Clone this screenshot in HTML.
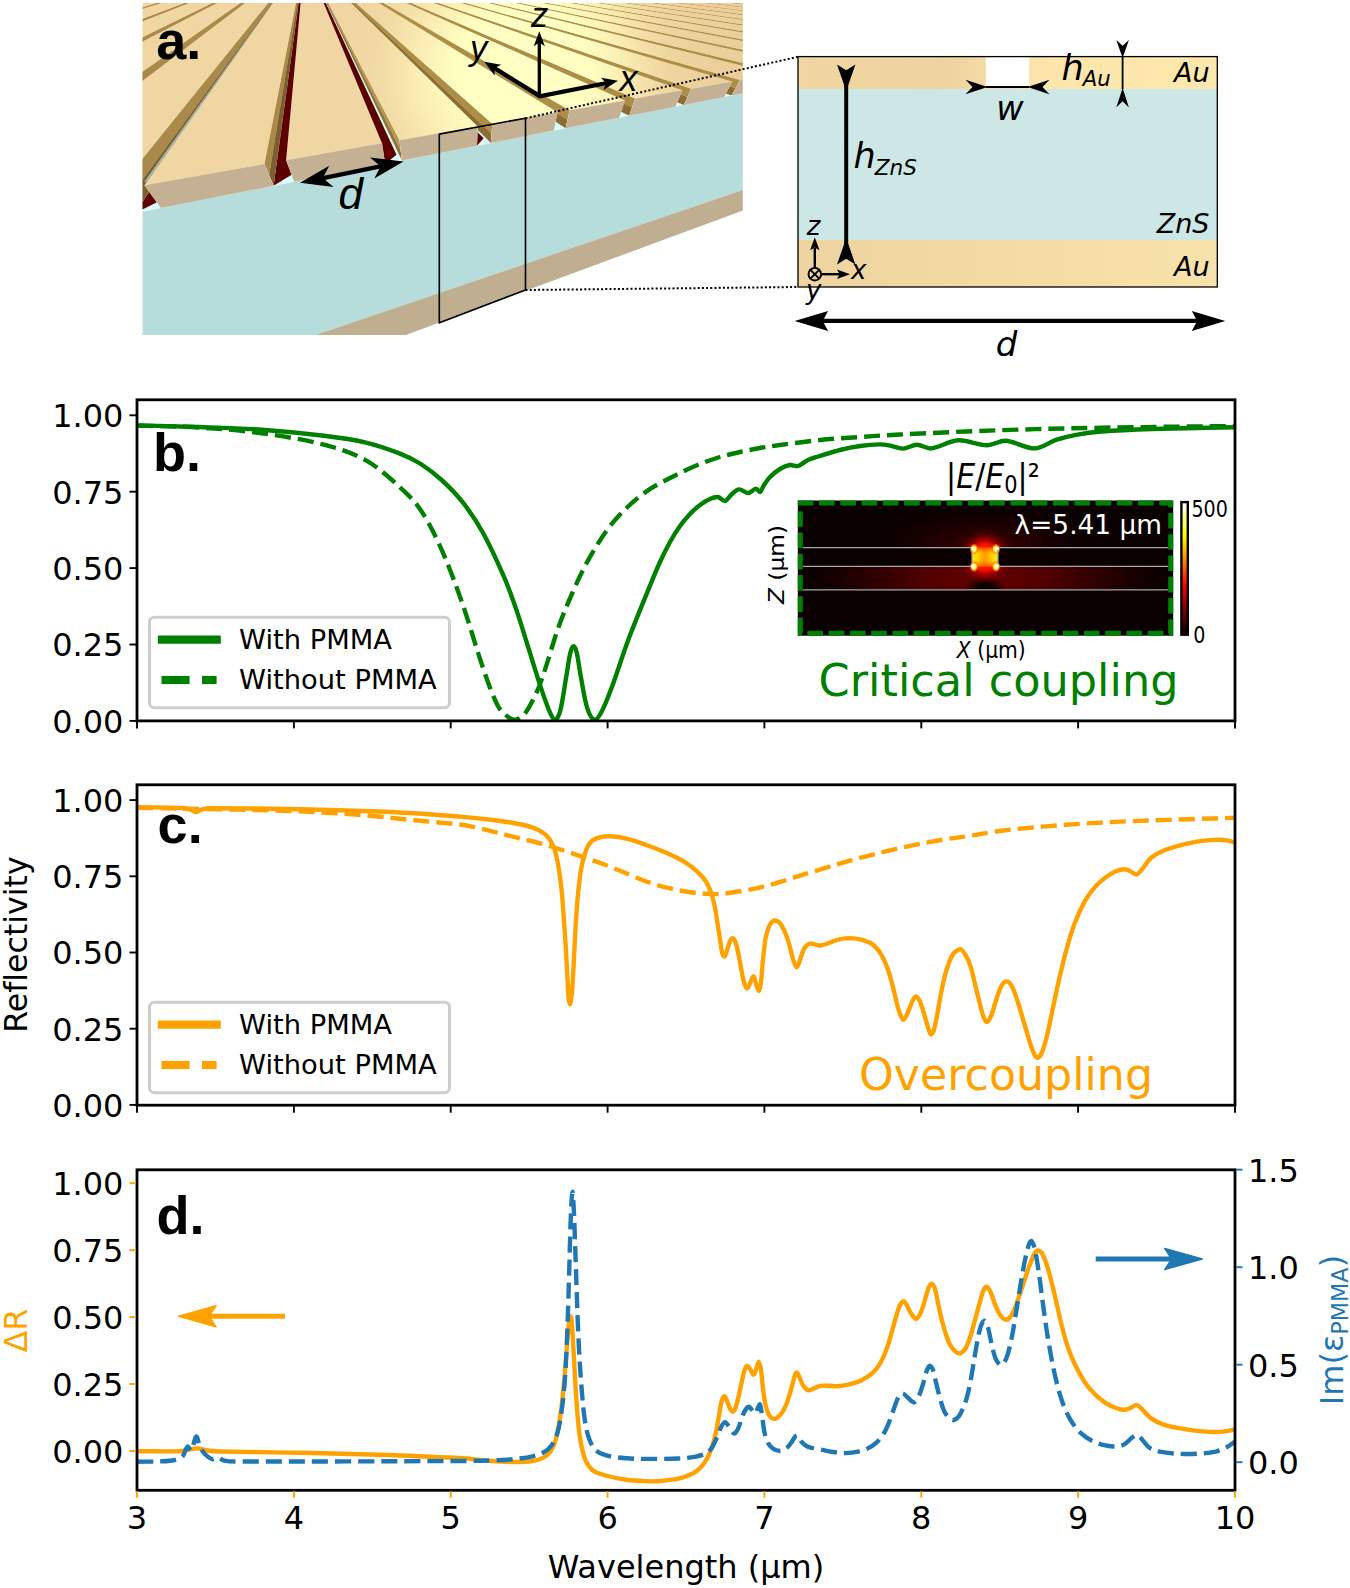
<!DOCTYPE html>
<html lang="en"><head><meta charset="utf-8"><title>Figure</title>
<style>
html,body{margin:0;padding:0;background:#fff;}
body{width:1350px;height:1588px;overflow:hidden;}
svg{display:block;}
text{font-family:"DejaVu Sans","Liberation Sans",sans-serif;font-variant-ligatures:none;}
.tk{font-size:32px;}
.al{font-size:32px;}
.lg{font-size:27.3px;}
.pl{font-family:"Liberation Sans",Arial,sans-serif;font-weight:bold;font-size:54px;}
.ar{font-family:"Liberation Sans",Arial,sans-serif;font-style:italic;}
.it{font-style:oblique;}
</style></head><body>
<svg width="1350" height="1588" viewBox="0 0 1350 1588">
<defs>
<clipPath id="cb"><rect x="137" y="399.8" width="1098" height="321.1"/></clipPath>
<clipPath id="cc"><rect x="137" y="784.8" width="1098" height="320.4"/></clipPath>
<clipPath id="cd"><rect x="137" y="1169.8" width="1098" height="320.5"/></clipPath>
<radialGradient id="gHalo" cx="985" cy="557" r="31" gradientUnits="userSpaceOnUse"><stop offset="0" stop-color="#ff3000" stop-opacity="1"/><stop offset="0.42" stop-color="#ff1400" stop-opacity="0.95"/><stop offset="0.55" stop-color="#c80000" stop-opacity="0.75"/><stop offset="0.75" stop-color="#700000" stop-opacity="0.4"/><stop offset="1" stop-color="#300000" stop-opacity="0"/></radialGradient>
<radialGradient id="gZ" cx="985" cy="578" r="1" gradientUnits="userSpaceOnUse" gradientTransform="translate(985 578) scale(190 60) translate(-985 -578)"><stop offset="0" stop-color="#6a0000" stop-opacity="1"/><stop offset="0.35" stop-color="#560000" stop-opacity="0.9"/><stop offset="0.7" stop-color="#330000" stop-opacity="0.6"/><stop offset="1" stop-color="#120000" stop-opacity="0"/></radialGradient>
<radialGradient id="gTopHaze" cx="985" cy="548" r="1" gradientUnits="userSpaceOnUse" gradientTransform="translate(985 548) scale(120 45) translate(-985 -548)"><stop offset="0" stop-color="#4a0000" stop-opacity="0.9"/><stop offset="0.5" stop-color="#300000" stop-opacity="0.5"/><stop offset="1" stop-color="#100000" stop-opacity="0"/></radialGradient>
<radialGradient id="gDark" cx="985" cy="590" r="1" gradientUnits="userSpaceOnUse" gradientTransform="translate(985 590) scale(22 13) translate(-985 -590)"><stop offset="0" stop-color="#000" stop-opacity="1"/><stop offset="0.45" stop-color="#050000" stop-opacity="0.9"/><stop offset="1" stop-color="#200000" stop-opacity="0"/></radialGradient>
<radialGradient id="gGap" cx="985" cy="557" r="1" gradientUnits="userSpaceOnUse" gradientTransform="translate(985 557) scale(14 9) translate(-985 -557)"><stop offset="0" stop-color="#ff9000"/><stop offset="0.6" stop-color="#ffa800"/><stop offset="1" stop-color="#ffd000"/></radialGradient>
<linearGradient id="gGapH" x1="0" x2="1" y1="0" y2="0"><stop offset="0" stop-color="#ffee00"/><stop offset="0.22" stop-color="#ffd000"/><stop offset="0.5" stop-color="#ff9600"/><stop offset="0.78" stop-color="#ffd000"/><stop offset="1" stop-color="#ffee00"/></linearGradient>
<linearGradient id="gGapV" x1="0" x2="0" y1="0" y2="1"><stop offset="0" stop-color="#ff3000" stop-opacity="0.75"/><stop offset="0.3" stop-color="#ff6000" stop-opacity="0"/><stop offset="0.7" stop-color="#ff6000" stop-opacity="0"/><stop offset="1" stop-color="#ff3000" stop-opacity="0.75"/></linearGradient>
<radialGradient id="gHot"><stop offset="0" stop-color="#fff"/><stop offset="0.3" stop-color="#ffffb0"/><stop offset="0.55" stop-color="#ffe600" stop-opacity="0.95"/><stop offset="0.8" stop-color="#ff7000" stop-opacity="0.6"/><stop offset="1" stop-color="#ff2000" stop-opacity="0"/></radialGradient>
<linearGradient id="gCb" x1="0" y1="1" x2="0" y2="0"><stop offset="0" stop-color="#0a0000"/><stop offset="0.18" stop-color="#7a0000"/><stop offset="0.365" stop-color="#ff0000"/><stop offset="0.55" stop-color="#ff8000"/><stop offset="0.746" stop-color="#ffff00"/><stop offset="1" stop-color="#ffffff"/></linearGradient>
<clipPath id="ci"><rect x="800.3" y="503.0" width="370.4" height="130.2"/></clipPath>
<clipPath id="cz"><rect x="800.3" y="566.4" width="370.4" height="23.4"/></clipPath>
<clipPath id="cabove"><path d="M800.3 503.0 H1170.7 V547.7 H997.9 V566.4 H1170.7 V589.8 H800.3 V566.4 H972.1 V547.7 H800.3 Z"/></clipPath><linearGradient id="gAuT" x1="798" x2="1217" y1="0" y2="0" gradientUnits="userSpaceOnUse"><stop offset="0" stop-color="#efd6a2"/><stop offset="0.35" stop-color="#edd39f"/><stop offset="0.56" stop-color="#fce5ab"/><stop offset="1" stop-color="#fee8ae"/></linearGradient>
<linearGradient id="gAuB" x1="798" x2="1217" y1="0" y2="0" gradientUnits="userSpaceOnUse"><stop offset="0" stop-color="#eed4a0"/><stop offset="0.5" stop-color="#f3dba5"/><stop offset="1" stop-color="#f8e2ab"/></linearGradient><clipPath id="cimg"><rect x="142.5" y="3.0" width="600.3" height="332.0"/></clipPath>
<radialGradient id="gHi" cx="522" cy="72" r="1" gradientUnits="userSpaceOnUse" gradientTransform="translate(522 72) rotate(-10) scale(185 175) translate(-522 -72)"><stop offset="0" stop-color="#ffffc6" stop-opacity="1"/><stop offset="0.36" stop-color="#ffffc2" stop-opacity="1"/><stop offset="0.58" stop-color="#fdf2b6" stop-opacity="0.8"/><stop offset="0.8" stop-color="#f5e0a8" stop-opacity="0.4"/><stop offset="1" stop-color="#efd6a2" stop-opacity="0"/></radialGradient>
<linearGradient id="gDk" x1="610" x2="745" y1="0" y2="0" gradientUnits="userSpaceOnUse"><stop offset="0" stop-color="#e3c48c" stop-opacity="0"/><stop offset="1" stop-color="#e3c48c" stop-opacity="0.4"/></linearGradient>
<clipPath id="g3"><polygon points="-4116.8,938.1 -3653.0,856.2 284.9,-37.8 284.4,-37.8"/><polygon points="-4116.8,938.1 -3653.0,856.2 -2905.1,812.0 -3223.3,874.7"/></clipPath>
<clipPath id="g4"><polygon points="-2173.3,594.8 -1971.9,559.2 287.7,-37.9 287.3,-37.9"/><polygon points="-2173.3,594.8 -1971.9,559.2 -1657.4,566.2 -1815.2,597.3"/></clipPath>
<clipPath id="g5"><polygon points="-1239.3,429.8 -1127.4,410.0 290.5,-37.9 290.1,-37.9"/><polygon points="-1239.3,429.8 -1127.4,410.0 -968.2,430.5 -1062.2,449.0"/></clipPath>
<clipPath id="g6"><polygon points="-690.6,332.8 -619.4,320.2 293.3,-37.9 292.9,-37.9"/><polygon points="-690.6,332.8 -619.4,320.2 -531.0,344.3 -593.4,356.6"/></clipPath>
<clipPath id="g7"><polygon points="-329.4,269.0 -280.2,260.3 296.1,-37.9 295.6,-37.9"/><polygon points="-329.4,269.0 -280.2,260.3 -229.1,284.9 -273.4,293.6"/></clipPath>
<clipPath id="g8"><polygon points="-73.7,223.8 -37.6,217.5 298.9,-37.9 298.4,-37.9"/><polygon points="-73.7,223.8 -37.6,217.5 -7.9,241.3 -41.1,247.8"/></clipPath>
<clipPath id="g9"><polygon points="116.9,190.2 144.4,185.3 301.6,-37.9 301.2,-37.9"/><polygon points="116.9,190.2 144.4,185.3 160.9,208.0 135.2,213.1"/></clipPath>
<clipPath id="g10"><polygon points="264.4,164.1 286.1,160.3 304.4,-37.9 303.9,-37.9"/><polygon points="264.4,164.1 286.1,160.3 294.2,181.8 273.6,185.8"/></clipPath>
<clipPath id="g11"><polygon points="382.0,143.3 399.5,140.2 307.1,-37.9 306.6,-37.9"/><polygon points="382.0,143.3 399.5,140.2 401.9,160.6 385.2,163.9"/></clipPath>
<clipPath id="g12"><polygon points="477.8,126.4 492.3,123.8 309.8,-37.9 309.3,-37.9"/><polygon points="477.8,126.4 492.3,123.8 490.9,143.0 477.0,145.8"/></clipPath>
<clipPath id="g13"><polygon points="557.5,112.3 569.7,110.2 312.5,-37.9 312.0,-37.9"/><polygon points="557.5,112.3 569.7,110.2 565.6,128.3 553.8,130.6"/></clipPath>
<clipPath id="g14"><polygon points="624.8,100.4 635.2,98.6 315.2,-37.9 314.7,-37.9"/><polygon points="624.8,100.4 635.2,98.6 629.2,115.8 619.1,117.8"/></clipPath>
<clipPath id="g15"><polygon points="682.4,90.3 691.3,88.7 317.9,-37.9 317.4,-37.9"/><polygon points="682.4,90.3 691.3,88.7 684.0,105.0 675.3,106.7"/></clipPath>
<clipPath id="g16"><polygon points="732.2,81.4 740.0,80.1 320.5,-37.9 320.1,-37.9"/><polygon points="732.2,81.4 740.0,80.1 731.7,95.6 724.1,97.1"/></clipPath>
<clipPath id="g17"><polygon points="775.8,73.8 782.6,72.6 323.2,-37.9 322.7,-37.9"/><polygon points="775.8,73.8 782.6,72.6 773.7,87.3 766.9,88.6"/></clipPath>
<clipPath id="g18"><polygon points="814.1,67.0 820.2,65.9 325.8,-37.9 325.3,-37.9"/><polygon points="814.1,67.0 820.2,65.9 810.8,80.0 804.8,81.2"/></clipPath>
<clipPath id="g19"><polygon points="848.2,61.0 853.6,60.0 328.4,-37.9 328.0,-37.9"/><polygon points="848.2,61.0 853.6,60.0 843.9,73.5 838.6,74.5"/></clipPath>
<clipPath id="g20"><polygon points="878.7,55.6 883.5,54.7 331.0,-38.0 330.6,-38.0"/><polygon points="878.7,55.6 883.5,54.7 873.6,67.6 868.8,68.6"/></clipPath>
<clipPath id="g21"><polygon points="906.0,50.7 910.4,50.0 333.6,-38.0 333.2,-38.0"/><polygon points="906.0,50.7 910.4,50.0 900.4,62.3 896.1,63.2"/></clipPath>
<clipPath id="g22"><polygon points="930.8,46.4 934.8,45.7 336.2,-38.0 335.8,-38.0"/><polygon points="930.8,46.4 934.8,45.7 924.7,57.6 920.8,58.3"/></clipPath>
<clipPath id="g23"><polygon points="953.3,42.4 956.9,41.8 338.8,-38.0 338.3,-38.0"/><polygon points="953.3,42.4 956.9,41.8 946.9,53.2 943.3,53.9"/></clipPath>
<clipPath id="g24"><polygon points="973.8,38.8 977.1,38.2 341.3,-38.0 340.9,-38.0"/><polygon points="973.8,38.8 977.1,38.2 967.1,49.2 963.8,49.9"/></clipPath>
<clipPath id="g25"><polygon points="992.6,35.4 995.6,34.9 343.9,-38.0 343.4,-38.0"/><polygon points="992.6,35.4 995.6,34.9 985.7,45.5 982.7,46.1"/></clipPath>
<clipPath id="g26"><polygon points="1009.9,32.4 1012.7,31.9 346.4,-38.0 346.0,-38.0"/><polygon points="1009.9,32.4 1012.7,31.9 1002.9,42.2 1000.1,42.7"/></clipPath>
<clipPath id="g27"><polygon points="1025.9,29.6 1028.4,29.1 348.9,-38.0 348.5,-38.0"/><polygon points="1025.9,29.6 1028.4,29.1 1018.7,39.0 1016.1,39.6"/></clipPath>
<clipPath id="g28"><polygon points="1040.6,27.0 1043.0,26.5 351.4,-38.0 351.0,-38.0"/><polygon points="1040.6,27.0 1043.0,26.5 1033.4,36.1 1031.0,36.6"/></clipPath>
<clipPath id="g29"><polygon points="1054.3,24.5 1056.5,24.2 353.9,-38.0 353.5,-38.0"/><polygon points="1054.3,24.5 1056.5,24.2 1047.1,33.5 1044.8,33.9"/></clipPath>
<clipPath id="g30"><polygon points="1067.1,22.3 1069.2,21.9 356.4,-38.0 356.0,-38.0"/><polygon points="1067.1,22.3 1069.2,21.9 1059.8,30.9 1057.7,31.4"/></clipPath>
<clipPath id="g31"><polygon points="1079.0,20.2 1080.9,19.8 358.9,-38.0 358.5,-38.0"/><polygon points="1079.0,20.2 1080.9,19.8 1071.7,28.6 1069.7,29.0"/></clipPath>
<clipPath id="g32"><polygon points="1090.1,18.2 1091.9,17.9 361.4,-38.0 360.9,-38.0"/><polygon points="1090.1,18.2 1091.9,17.9 1082.8,26.4 1081.0,26.8"/></clipPath>
<clipPath id="g33"><polygon points="1100.5,16.4 1102.2,16.1 363.8,-38.0 363.4,-38.0"/><polygon points="1100.5,16.4 1102.2,16.1 1093.3,24.4 1091.6,24.7"/></clipPath>
<clipPath id="g34"><polygon points="1110.3,14.7 1111.9,14.4 366.3,-38.0 365.8,-38.0"/><polygon points="1110.3,14.7 1111.9,14.4 1103.1,22.4 1101.5,22.7"/></clipPath>
<clipPath id="g35"><polygon points="1119.5,13.0 1121.1,12.8 368.7,-38.0 368.3,-38.0"/><polygon points="1119.5,13.0 1121.1,12.8 1112.4,20.6 1110.9,20.9"/></clipPath>
<clipPath id="g36"><polygon points="1128.2,11.5 1129.7,11.2 371.1,-38.0 370.7,-38.0"/><polygon points="1128.2,11.5 1129.7,11.2 1121.1,18.9 1119.7,19.2"/></clipPath>
<clipPath id="g37"><polygon points="1136.4,10.0 1137.8,9.8 373.5,-38.1 373.1,-38.1"/><polygon points="1136.4,10.0 1137.8,9.8 1129.4,17.2 1128.0,17.5"/></clipPath>
<clipPath id="g38"><polygon points="1144.2,8.7 1145.5,8.4 375.9,-38.1 375.5,-38.1"/><polygon points="1144.2,8.7 1145.5,8.4 1137.2,15.7 1135.9,16.0"/></clipPath>
<clipPath id="g39"><polygon points="1151.5,7.4 1152.7,7.2 378.3,-38.1 377.9,-38.1"/><polygon points="1151.5,7.4 1152.7,7.2 1144.6,14.2 1143.4,14.5"/></clipPath>
</defs>
<rect width="1350" height="1588" fill="#fff"/>
<g clip-path="url(#cimg)">
<rect x="142.5" y="3.0" width="600.3" height="332.0" fill="#fff"/>
<polygon points="142.5,3.0 742.8,3.0 1212.5,-3.4 -10633.8,2089.5 92.5,335.0" fill="#efd6a3" />
<polygon points="142.5,3.0 742.8,3.0 1212.5,-3.4 -10633.8,2089.5 92.5,335.0" fill="url(#gHi)" />
<polygon points="142.5,3.0 742.8,3.0 1212.5,-3.4 -10633.8,2089.5 92.5,335.0" fill="url(#gDk)" />
<g clip-path="url(#g3)">
<polygon points="-3223.3,874.7 -2905.1,812.0 285.1,-37.1 284.6,-37.1" fill="#dcfbfb" />
<polygon points="-3223.3,874.7 -2558.8,717.1 285.0,-37.1 284.6,-37.1" fill="#5c0000" />
<polygon points="-4116.8,938.1 284.4,-37.8 284.5,-37.5 -3621.7,903.0" fill="#a98a4b" />
<polygon points="-3621.7,903.0 284.5,-37.5 284.6,-37.1 -3223.3,874.7" fill="#7c5f2f" />
</g>
<g clip-path="url(#g4)">
<polygon points="-1815.2,597.3 -1657.4,566.2 287.9,-37.1 287.5,-37.1" fill="#dcfbfb" />
<polygon points="-1815.2,597.3 -1504.7,516.5 287.9,-37.1 287.5,-37.1" fill="#5c0000" />
<polygon points="-2173.3,594.8 287.3,-37.9 287.4,-37.5 -1981.2,596.1" fill="#a98a4b" />
<polygon points="-1981.2,596.1 287.4,-37.5 287.5,-37.1 -1815.2,597.3" fill="#7c5f2f" />
</g>
<g clip-path="url(#g5)">
<polygon points="-1062.2,449.0 -968.2,430.5 290.7,-37.1 290.3,-37.1" fill="#dcfbfb" />
<polygon points="-1062.2,449.0 -891.9,399.9 290.7,-37.1 290.3,-37.1" fill="#5c0000" />
<polygon points="-1239.3,429.8 290.1,-37.9 290.2,-37.5 -1145.9,439.9" fill="#a98a4b" />
<polygon points="-1145.9,439.9 290.2,-37.5 290.3,-37.1 -1062.2,449.0" fill="#7c5f2f" />
</g>
<g clip-path="url(#g6)">
<polygon points="-593.4,356.6 -531.0,344.3 293.5,-37.1 293.0,-37.1" fill="#dcfbfb" />
<polygon points="-593.4,356.6 -491.3,323.7 293.4,-37.1 293.0,-37.1" fill="#5c0000" />
<polygon points="-690.6,332.8 292.9,-37.9 293.0,-37.5 -639.8,345.2" fill="#a98a4b" />
<polygon points="-639.8,345.2 293.0,-37.5 293.0,-37.1 -593.4,356.6" fill="#7c5f2f" />
</g>
<g clip-path="url(#g7)">
<polygon points="-273.4,293.6 -229.1,284.9 296.3,-37.2 295.8,-37.2" fill="#dcfbfb" />
<polygon points="-273.4,293.6 -208.9,270.0 296.2,-37.2 295.8,-37.2" fill="#5c0000" />
<polygon points="-329.4,269.0 295.6,-37.9 295.7,-37.5 -300.3,281.7" fill="#a98a4b" />
<polygon points="-300.3,281.7 295.7,-37.5 295.8,-37.2 -273.4,293.6" fill="#7c5f2f" />
</g>
<g clip-path="url(#g8)">
<polygon points="-41.1,247.8 -7.9,241.3 299.1,-37.2 298.6,-37.2" fill="#dcfbfb" />
<polygon points="-41.1,247.8 0.8,230.0 299.0,-37.2 298.6,-37.2" fill="#5c0000" />
<polygon points="-73.7,223.8 298.4,-37.9 298.5,-37.5 -56.9,236.2" fill="#a98a4b" />
<polygon points="-56.9,236.2 298.5,-37.5 298.6,-37.2 -41.1,247.8" fill="#7c5f2f" />
</g>
<g clip-path="url(#g9)">
<polygon points="135.2,213.1 160.9,208.0 301.8,-37.2 301.3,-37.2" fill="#dcfbfb" />
<polygon points="135.2,213.1 162.8,199.2 301.7,-37.2 301.3,-37.2" fill="#5c0000" />
<polygon points="116.9,190.2 301.2,-37.9 301.3,-37.5 126.3,201.9" fill="#a98a4b" />
<polygon points="126.3,201.9 301.3,-37.5 301.3,-37.2 135.2,213.1" fill="#7c5f2f" />
</g>
<g clip-path="url(#g10)">
<polygon points="273.6,185.8 294.2,181.8 304.5,-37.2 304.1,-37.2" fill="#dcfbfb" />
<polygon points="273.6,185.8 291.6,174.7 304.5,-37.2 304.1,-37.2" fill="#5c0000" />
<polygon points="264.4,164.1 303.9,-37.9 304.0,-37.5 269.1,175.2" fill="#a98a4b" />
<polygon points="269.1,175.2 304.0,-37.5 304.1,-37.2 273.6,185.8" fill="#7c5f2f" />
</g>
<g clip-path="url(#g11)">
<polygon points="385.2,163.9 401.9,160.6 307.3,-37.2 306.8,-37.2" fill="#dcfbfb" />
<polygon points="385.2,163.9 396.5,154.7 307.2,-37.2 306.8,-37.2" fill="#5c0000" />
<polygon points="399.5,140.2 307.1,-37.9 307.2,-37.5 400.7,150.6" fill="#b49555" />
<polygon points="400.7,150.6 307.2,-37.5 307.3,-37.2 401.9,160.6" fill="#8f7238" />
</g>
<g clip-path="url(#g12)">
<polygon points="477.0,145.8 490.9,143.0 310.0,-37.2 309.5,-37.2" fill="#dcfbfb" />
<polygon points="477.0,145.8 483.6,138.2 309.9,-37.2 309.5,-37.2" fill="#5c0000" />
<polygon points="492.3,123.8 309.8,-37.9 309.9,-37.6 491.6,133.6" fill="#ad8e48" />
<polygon points="491.6,133.6 309.9,-37.6 310.0,-37.2 490.9,143.0" fill="#8c6e32" />
</g>
<g clip-path="url(#g13)">
<polygon points="553.8,130.6 565.6,128.3 312.7,-37.2 312.2,-37.2" fill="#dcfbfb" />
<polygon points="569.7,110.2 312.5,-37.9 312.6,-37.6 567.6,119.4" fill="#ad8e48" />
<polygon points="567.6,119.4 312.6,-37.6 312.7,-37.2 565.6,128.3" fill="#8c6e32" />
</g>
<g clip-path="url(#g14)">
<polygon points="619.1,117.8 629.2,115.8 315.3,-37.2 314.9,-37.2" fill="#dcfbfb" />
<polygon points="635.2,98.6 315.2,-37.9 315.3,-37.6 632.1,107.3" fill="#ad8e48" />
<polygon points="632.1,107.3 315.3,-37.6 315.3,-37.2 629.2,115.8" fill="#8c6e32" />
</g>
<g clip-path="url(#g15)">
<polygon points="675.3,106.7 684.0,105.0 318.0,-37.2 317.6,-37.2" fill="#dcfbfb" />
<polygon points="691.3,88.7 317.9,-37.9 317.9,-37.6 687.6,97.0" fill="#ad8e48" />
<polygon points="687.6,97.0 317.9,-37.6 318.0,-37.2 684.0,105.0" fill="#8c6e32" />
</g>
<g clip-path="url(#g16)">
<polygon points="724.1,97.1 731.7,95.6 320.7,-37.2 320.2,-37.2" fill="#dcfbfb" />
<polygon points="740.0,80.1 320.5,-37.9 320.6,-37.6 735.8,87.9" fill="#ad8e48" />
<polygon points="735.8,87.9 320.6,-37.6 320.7,-37.2 731.7,95.6" fill="#8c6e32" />
</g>
<g clip-path="url(#g17)">
<polygon points="766.9,88.6 773.7,87.3 323.3,-37.2 322.9,-37.2" fill="#dcfbfb" />
<polygon points="782.6,72.6 323.2,-37.9 323.2,-37.6 778.1,80.0" fill="#ad8e48" />
<polygon points="778.1,80.0 323.2,-37.6 323.3,-37.2 773.7,87.3" fill="#8c6e32" />
</g>
<g clip-path="url(#g18)">
<polygon points="804.8,81.2 810.8,80.0 325.9,-37.2 325.5,-37.2" fill="#dcfbfb" />
<polygon points="820.2,65.9 325.8,-37.9 325.9,-37.6 815.4,73.0" fill="#ad8e48" />
<polygon points="815.4,73.0 325.9,-37.6 325.9,-37.2 810.8,80.0" fill="#8c6e32" />
</g>
<g clip-path="url(#g19)">
<polygon points="838.6,74.5 843.9,73.5 328.5,-37.3 328.1,-37.2" fill="#dcfbfb" />
<polygon points="853.6,60.0 328.4,-37.9 328.5,-37.6 848.7,66.8" fill="#ad8e48" />
<polygon points="848.7,66.8 328.5,-37.6 328.5,-37.3 843.9,73.5" fill="#8c6e32" />
</g>
<g clip-path="url(#g20)">
<polygon points="868.8,68.6 873.6,67.6 331.1,-37.3 330.7,-37.3" fill="#dcfbfb" />
<polygon points="883.5,54.7 331.0,-38.0 331.1,-37.6 878.5,61.3" fill="#ad8e48" />
<polygon points="878.5,61.3 331.1,-37.6 331.1,-37.3 873.6,67.6" fill="#8c6e32" />
</g>
<g clip-path="url(#g21)">
<polygon points="896.1,63.2 900.4,62.3 333.7,-37.3 333.3,-37.3" fill="#dcfbfb" />
<polygon points="910.4,50.0 333.6,-38.0 333.7,-37.6 905.4,56.2" fill="#ad8e48" />
<polygon points="905.4,56.2 333.7,-37.6 333.7,-37.3 900.4,62.3" fill="#8c6e32" />
</g>
<g clip-path="url(#g22)">
<polygon points="920.8,58.3 924.7,57.6 336.3,-37.3 335.9,-37.3" fill="#dcfbfb" />
<polygon points="934.8,45.7 336.2,-38.0 336.3,-37.6 929.7,51.7" fill="#ad8e48" />
<polygon points="929.7,51.7 336.3,-37.6 336.3,-37.3 924.7,57.6" fill="#8c6e32" />
</g>
<g clip-path="url(#g23)">
<polygon points="943.3,53.9 946.9,53.2 338.9,-37.3 338.5,-37.3" fill="#dcfbfb" />
<polygon points="956.9,41.8 338.8,-38.0 338.8,-37.6 951.8,47.5" fill="#ad8e48" />
<polygon points="951.8,47.5 338.8,-37.6 338.9,-37.3 946.9,53.2" fill="#8c6e32" />
</g>
<g clip-path="url(#g24)">
<polygon points="963.8,49.9 967.1,49.2 341.4,-37.3 341.0,-37.3" fill="#dcfbfb" />
<polygon points="977.1,38.2 341.3,-38.0 341.4,-37.6 972.1,43.7" fill="#ad8e48" />
<polygon points="972.1,43.7 341.4,-37.6 341.4,-37.3 967.1,49.2" fill="#8c6e32" />
</g>
<g clip-path="url(#g25)">
<polygon points="982.7,46.1 985.7,45.5 344.0,-37.3 343.6,-37.3" fill="#dcfbfb" />
<polygon points="995.6,34.9 343.9,-38.0 343.9,-37.6 990.6,40.3" fill="#ad8e48" />
<polygon points="990.6,40.3 343.9,-37.6 344.0,-37.3 985.7,45.5" fill="#8c6e32" />
</g>
<g clip-path="url(#g26)">
<polygon points="1000.1,42.7 1002.9,42.2 346.5,-37.3 346.1,-37.3" fill="#dcfbfb" />
<polygon points="1012.7,31.9 346.4,-38.0 346.5,-37.6 1007.7,37.1" fill="#ad8e48" />
<polygon points="1007.7,37.1 346.5,-37.6 346.5,-37.3 1002.9,42.2" fill="#8c6e32" />
</g>
<g clip-path="url(#g27)">
<polygon points="1016.1,39.6 1018.7,39.0 349.0,-37.3 348.6,-37.3" fill="#dcfbfb" />
<polygon points="1028.4,29.1 348.9,-38.0 349.0,-37.7 1023.5,34.1" fill="#ad8e48" />
<polygon points="1023.5,34.1 349.0,-37.7 349.0,-37.3 1018.7,39.0" fill="#8c6e32" />
</g>
<g clip-path="url(#g28)">
<polygon points="1031.0,36.6 1033.4,36.1 351.5,-37.3 351.1,-37.3" fill="#dcfbfb" />
<polygon points="1043.0,26.5 351.4,-38.0 351.5,-37.7 1038.2,31.4" fill="#ad8e48" />
<polygon points="1038.2,31.4 351.5,-37.7 351.5,-37.3 1033.4,36.1" fill="#8c6e32" />
</g>
<g clip-path="url(#g29)">
<polygon points="1044.8,33.9 1047.1,33.5 354.0,-37.3 353.6,-37.3" fill="#dcfbfb" />
<polygon points="1056.5,24.2 353.9,-38.0 354.0,-37.7 1051.8,28.8" fill="#ad8e48" />
<polygon points="1051.8,28.8 354.0,-37.7 354.0,-37.3 1047.1,33.5" fill="#8c6e32" />
</g>
<g clip-path="url(#g30)">
<polygon points="1057.7,31.4 1059.8,30.9 356.5,-37.3 356.1,-37.3" fill="#dcfbfb" />
<polygon points="1069.2,21.9 356.4,-38.0 356.5,-37.7 1064.4,26.5" fill="#ad8e48" />
<polygon points="1064.4,26.5 356.5,-37.7 356.5,-37.3 1059.8,30.9" fill="#8c6e32" />
</g>
<g clip-path="url(#g31)">
<polygon points="1069.7,29.0 1071.7,28.6 359.0,-37.3 358.6,-37.3" fill="#dcfbfb" />
<polygon points="1080.9,19.8 358.9,-38.0 358.9,-37.7 1076.3,24.3" fill="#ad8e48" />
<polygon points="1076.3,24.3 358.9,-37.7 359.0,-37.3 1071.7,28.6" fill="#8c6e32" />
</g>
<g clip-path="url(#g32)">
<polygon points="1081.0,26.8 1082.8,26.4 361.5,-37.3 361.0,-37.3" fill="#dcfbfb" />
<polygon points="1091.9,17.9 361.4,-38.0 361.4,-37.7 1087.3,22.2" fill="#ad8e48" />
<polygon points="1087.3,22.2 361.4,-37.7 361.5,-37.3 1082.8,26.4" fill="#8c6e32" />
</g>
<g clip-path="url(#g33)">
<polygon points="1091.6,24.7 1093.3,24.4 363.9,-37.4 363.5,-37.4" fill="#dcfbfb" />
<polygon points="1102.2,16.1 363.8,-38.0 363.9,-37.7 1097.7,20.2" fill="#ad8e48" />
<polygon points="1097.7,20.2 363.9,-37.7 363.9,-37.4 1093.3,24.4" fill="#8c6e32" />
</g>
<g clip-path="url(#g34)">
<polygon points="1101.5,22.7 1103.1,22.4 366.3,-37.4 365.9,-37.4" fill="#dcfbfb" />
<polygon points="1111.9,14.4 366.3,-38.0 366.3,-37.7 1107.5,18.4" fill="#ad8e48" />
<polygon points="1107.5,18.4 366.3,-37.7 366.3,-37.4 1103.1,22.4" fill="#8c6e32" />
</g>
<g clip-path="url(#g35)">
<polygon points="1110.9,20.9 1112.4,20.6 368.8,-37.4 368.4,-37.4" fill="#dcfbfb" />
<polygon points="1121.1,12.8 368.7,-38.0 368.7,-37.7 1116.7,16.7" fill="#ad8e48" />
<polygon points="1116.7,16.7 368.7,-37.7 368.8,-37.4 1112.4,20.6" fill="#8c6e32" />
</g>
<g clip-path="url(#g36)">
<polygon points="1119.7,19.2 1121.1,18.9 371.2,-37.4 370.8,-37.4" fill="#dcfbfb" />
<polygon points="1129.7,11.2 371.1,-38.0 371.1,-37.7 1125.4,15.1" fill="#ad8e48" />
<polygon points="1125.4,15.1 371.1,-37.7 371.2,-37.4 1121.1,18.9" fill="#8c6e32" />
</g>
<g clip-path="url(#g37)">
<polygon points="1128.0,17.5 1129.4,17.2 373.6,-37.4 373.2,-37.4" fill="#dcfbfb" />
<polygon points="1137.8,9.8 373.5,-38.1 373.6,-37.7 1133.5,13.5" fill="#ad8e48" />
<polygon points="1133.5,13.5 373.6,-37.7 373.6,-37.4 1129.4,17.2" fill="#8c6e32" />
</g>
<g clip-path="url(#g38)">
<polygon points="1135.9,16.0 1137.2,15.7 376.0,-37.4 375.6,-37.4" fill="#dcfbfb" />
<polygon points="1145.5,8.4 375.9,-38.1 376.0,-37.7 1141.3,12.1" fill="#ad8e48" />
<polygon points="1141.3,12.1 376.0,-37.7 376.0,-37.4 1137.2,15.7" fill="#8c6e32" />
</g>
<g clip-path="url(#g39)">
<polygon points="1143.4,14.5 1144.6,14.2 378.4,-37.4 378.0,-37.4" fill="#dcfbfb" />
<polygon points="1152.7,7.2 378.3,-38.1 378.3,-37.7 1148.6,10.7" fill="#ad8e48" />
<polygon points="1148.6,10.7 378.3,-37.7 378.4,-37.4 1144.6,14.2" fill="#8c6e32" />
</g>
<polygon points="144.1,182.1 147.0,181.6 301.6,-37.9 301.6,-37.9" fill="#a3b9b4" />
<polygon points="-6798.9,1579.1 1205.6,2.2 1140.9,55.0 -1127.6,824.4" fill="#b7dcdc" />
<polygon points="-1127.6,824.4 1140.9,55.0 1121.9,70.5 -801.9,781.0" fill="#bfae90" />
<polygon points="135.2,213.1 160.9,208.0 160.9,208.0" fill="#dcfbfb" />
<polygon points="273.6,185.8 294.2,181.8 294.2,181.8" fill="#dcfbfb" />
<polygon points="385.2,163.9 401.9,160.6 401.9,160.6" fill="#dcfbfb" />
<polygon points="477.0,145.8 490.9,143.0 490.9,143.0" fill="#dcfbfb" />
<polygon points="553.8,130.6 565.6,128.3 565.6,128.3" fill="#dcfbfb" />
<polygon points="619.1,117.8 629.2,115.8 629.2,115.8" fill="#dcfbfb" />
<polygon points="675.3,106.7 684.0,105.0 684.0,105.0" fill="#dcfbfb" />
<polygon points="724.1,97.1 731.7,95.6 731.7,95.6" fill="#dcfbfb" />
<polygon points="766.9,88.6 773.7,87.3 773.7,87.3" fill="#dcfbfb" />
<polygon points="804.8,81.2 810.8,80.0 810.8,80.0" fill="#dcfbfb" />
<polygon points="838.6,74.5 843.9,73.5 843.9,73.5" fill="#dcfbfb" />
<polygon points="868.8,68.6 873.6,67.6 873.6,67.6" fill="#dcfbfb" />
<polygon points="896.1,63.2 900.4,62.3 900.4,62.3" fill="#dcfbfb" />
<polygon points="920.8,58.3 924.7,57.6 924.7,57.6" fill="#dcfbfb" />
<polygon points="943.3,53.9 946.9,53.2 946.9,53.2" fill="#dcfbfb" />
<polygon points="963.8,49.9 967.1,49.2 967.1,49.2" fill="#dcfbfb" />
<polygon points="982.7,46.1 985.7,45.5 985.7,45.5" fill="#dcfbfb" />
<polygon points="1000.1,42.7 1002.9,42.2 1002.9,42.2" fill="#dcfbfb" />
<polygon points="1016.1,39.6 1018.7,39.0 1018.7,39.0" fill="#dcfbfb" />
<polygon points="1031.0,36.6 1033.4,36.1 1033.4,36.1" fill="#dcfbfb" />
<polygon points="1044.8,33.9 1047.1,33.5 1047.1,33.5" fill="#dcfbfb" />
<polygon points="1057.7,31.4 1059.8,30.9 1059.8,30.9" fill="#dcfbfb" />
<polygon points="1069.7,29.0 1071.7,28.6 1071.7,28.6" fill="#dcfbfb" />
<polygon points="1081.0,26.8 1082.8,26.4 1082.8,26.4" fill="#dcfbfb" />
<polygon points="1091.6,24.7 1093.3,24.4 1093.3,24.4" fill="#dcfbfb" />
<polygon points="1101.5,22.7 1103.1,22.4 1103.1,22.4" fill="#dcfbfb" />
<polygon points="1110.9,20.9 1112.4,20.6 1112.4,20.6" fill="#dcfbfb" />
<polygon points="1119.7,19.2 1121.1,18.9 1121.1,18.9" fill="#dcfbfb" />
<polygon points="1128.0,17.5 1129.4,17.2 1129.4,17.2" fill="#dcfbfb" />
<polygon points="1135.9,16.0 1137.2,15.7 1137.2,15.7" fill="#dcfbfb" />
<polygon points="1143.4,14.5 1144.6,14.2 1144.6,14.2" fill="#dcfbfb" />
<polygon points="-3653.0,856.2 -2173.3,594.8 -1815.2,597.3 -2905.1,812.0" fill="#c4b193" />
<polygon points="-1971.9,559.2 -1239.3,429.8 -1062.2,449.0 -1657.4,566.2" fill="#c4b193" />
<polygon points="-1127.4,410.0 -690.6,332.8 -593.4,356.6 -968.2,430.5" fill="#c4b193" />
<polygon points="-619.4,320.2 -329.4,269.0 -273.4,293.6 -531.0,344.3" fill="#c4b193" />
<polygon points="-280.2,260.3 -73.7,223.8 -41.1,247.8 -229.1,284.9" fill="#c4b193" />
<polygon points="-37.6,217.5 116.9,190.2 135.2,213.1 -7.9,241.3" fill="#c4b193" />
<polygon points="144.4,185.3 264.4,164.1 273.6,185.8 160.9,208.0" fill="#c4b193" />
<polygon points="286.1,160.3 382.0,143.3 385.2,163.9 294.2,181.8" fill="#c4b193" />
<polygon points="399.5,140.2 477.8,126.4 477.0,145.8 401.9,160.6" fill="#c4b193" />
<polygon points="492.3,123.8 557.5,112.3 553.8,130.6 490.9,143.0" fill="#c4b193" />
<polygon points="569.7,110.2 624.8,100.4 619.1,117.8 565.6,128.3" fill="#c4b193" />
<polygon points="635.2,98.6 682.4,90.3 675.3,106.7 629.2,115.8" fill="#c4b193" />
<polygon points="691.3,88.7 732.2,81.4 724.1,97.1 684.0,105.0" fill="#c4b193" />
<polygon points="740.0,80.1 775.8,73.8 766.9,88.6 731.7,95.6" fill="#c4b193" />
<polygon points="782.6,72.6 814.1,67.0 804.8,81.2 773.7,87.3" fill="#c4b193" />
<polygon points="820.2,65.9 848.2,61.0 838.6,74.5 810.8,80.0" fill="#c4b193" />
<polygon points="853.6,60.0 878.7,55.6 868.8,68.6 843.9,73.5" fill="#c4b193" />
<polygon points="883.5,54.7 906.0,50.7 896.1,63.2 873.6,67.6" fill="#c4b193" />
<polygon points="910.4,50.0 930.8,46.4 920.8,58.3 900.4,62.3" fill="#c4b193" />
<polygon points="934.8,45.7 953.3,42.4 943.3,53.9 924.7,57.6" fill="#c4b193" />
<polygon points="956.9,41.8 973.8,38.8 963.8,49.9 946.9,53.2" fill="#c4b193" />
<polygon points="977.1,38.2 992.6,35.4 982.7,46.1 967.1,49.2" fill="#c4b193" />
<polygon points="995.6,34.9 1009.9,32.4 1000.1,42.7 985.7,45.5" fill="#c4b193" />
<polygon points="1012.7,31.9 1025.9,29.6 1016.1,39.6 1002.9,42.2" fill="#c4b193" />
<polygon points="1028.4,29.1 1040.6,27.0 1031.0,36.6 1018.7,39.0" fill="#c4b193" />
<polygon points="1043.0,26.5 1054.3,24.5 1044.8,33.9 1033.4,36.1" fill="#c4b193" />
<polygon points="1056.5,24.2 1067.1,22.3 1057.7,31.4 1047.1,33.5" fill="#c4b193" />
<polygon points="1069.2,21.9 1079.0,20.2 1069.7,29.0 1059.8,30.9" fill="#c4b193" />
<polygon points="1080.9,19.8 1090.1,18.2 1081.0,26.8 1071.7,28.6" fill="#c4b193" />
<polygon points="1091.9,17.9 1100.5,16.4 1091.6,24.7 1082.8,26.4" fill="#c4b193" />
<polygon points="1102.2,16.1 1110.3,14.7 1101.5,22.7 1093.3,24.4" fill="#c4b193" />
<polygon points="1111.9,14.4 1119.5,13.0 1110.9,20.9 1103.1,22.4" fill="#c4b193" />
<polygon points="1121.1,12.8 1128.2,11.5 1119.7,19.2 1112.4,20.6" fill="#c4b193" />
<polygon points="1129.7,11.2 1136.4,10.0 1128.0,17.5 1121.1,18.9" fill="#c4b193" />
<polygon points="1137.8,9.8 1144.2,8.7 1135.9,16.0 1129.4,17.2" fill="#c4b193" />
<polygon points="1145.5,8.4 1151.5,7.4 1143.4,14.5 1137.2,15.7" fill="#c4b193" />
<polygon points="1152.7,7.2 1158.5,6.1 1150.5,13.1 1144.6,14.2" fill="#c4b193" />
<polygon points="-73.7,223.8 -37.6,217.5 -7.9,241.3 -41.1,247.8" fill="none" />
<polygon points="116.9,190.2 144.4,185.3 160.9,208.0 135.2,213.1" fill="none" />
<polygon points="264.4,164.1 286.1,160.3 294.2,181.8 273.6,185.8" fill="none" />
<polygon points="382.0,143.3 399.5,140.2 401.9,160.6 385.2,163.9" fill="none" />
<polygon points="477.8,126.4 492.3,123.8 490.9,143.0 477.0,145.8" fill="none" />
<polygon points="557.5,112.3 569.7,110.2 565.6,128.3 553.8,130.6" fill="none" />
<polygon points="624.8,100.4 635.2,98.6 629.2,115.8 619.1,117.8" fill="none" />
<polygon points="682.4,90.3 691.3,88.7 684.0,105.0 675.3,106.7" fill="none" />
<polygon points="732.2,81.4 740.0,80.1 731.7,95.6 724.1,97.1" fill="none" />
<polygon points="775.8,73.8 782.6,72.6 773.7,87.3 766.9,88.6" fill="none" />
<polygon points="814.1,67.0 820.2,65.9 810.8,80.0 804.8,81.2" fill="none" />
<polygon points="848.2,61.0 853.6,60.0 843.9,73.5 838.6,74.5" fill="none" />
<polygon points="878.7,55.6 883.5,54.7 873.6,67.6 868.8,68.6" fill="none" />
<polygon points="906.0,50.7 910.4,50.0 900.4,62.3 896.1,63.2" fill="none" />
<polygon points="930.8,46.4 934.8,45.7 924.7,57.6 920.8,58.3" fill="none" />
<polygon points="953.3,42.4 956.9,41.8 946.9,53.2 943.3,53.9" fill="none" />
<polygon points="973.8,38.8 977.1,38.2 967.1,49.2 963.8,49.9" fill="none" />
<polygon points="992.6,35.4 995.6,34.9 985.7,45.5 982.7,46.1" fill="none" />
<polygon points="1009.9,32.4 1012.7,31.9 1002.9,42.2 1000.1,42.7" fill="none" />
<polygon points="1025.9,29.6 1028.4,29.1 1018.7,39.0 1016.1,39.6" fill="none" />
<polygon points="1040.6,27.0 1043.0,26.5 1033.4,36.1 1031.0,36.6" fill="none" />
<polygon points="1054.3,24.5 1056.5,24.2 1047.1,33.5 1044.8,33.9" fill="none" />
<polygon points="1067.1,22.3 1069.2,21.9 1059.8,30.9 1057.7,31.4" fill="none" />
<polygon points="1079.0,20.2 1080.9,19.8 1071.7,28.6 1069.7,29.0" fill="none" />
<polygon points="1090.1,18.2 1091.9,17.9 1082.8,26.4 1081.0,26.8" fill="none" />
<polygon points="1100.5,16.4 1102.2,16.1 1093.3,24.4 1091.6,24.7" fill="none" />
<polygon points="1110.3,14.7 1111.9,14.4 1103.1,22.4 1101.5,22.7" fill="none" />
<polygon points="1119.5,13.0 1121.1,12.8 1112.4,20.6 1110.9,20.9" fill="none" />
<polygon points="1128.2,11.5 1129.7,11.2 1121.1,18.9 1119.7,19.2" fill="none" />
<polygon points="1136.4,10.0 1137.8,9.8 1129.4,17.2 1128.0,17.5" fill="none" />
<polygon points="1144.2,8.7 1145.5,8.4 1137.2,15.7 1135.9,16.0" fill="none" />
<polygon points="1151.5,7.4 1152.7,7.2 1144.6,14.2 1143.4,14.5" fill="none" />
</g>
<line x1="539.3" y1="96.5" x2="539.3" y2="41.7" stroke="#000" stroke-width="3.3" stroke-linecap="butt"/>
<path d="M539.3 31.2 L544.9 46.2 L539.3 42.5 L533.7 46.2 Z" fill="#000"/>
<line x1="539.3" y1="96.4" x2="606.9" y2="83.0" stroke="#000" stroke-width="4.2" stroke-linecap="butt"/>
<path d="M617.9 80.8 L603.4 90.1 L606.1 83.1 L601.0 77.7 Z" fill="#000"/>
<line x1="540.5" y1="96.6" x2="493.8" y2="67.6" stroke="#000" stroke-width="4.2" stroke-linecap="butt"/>
<path d="M484.3 61.7 L501.2 64.8 L494.5 68.0 L494.6 75.5 Z" fill="#000"/>
<path d="M537.9 97.6 L539.3 94 L540.7 97.6 Z" fill="#000"/>
<text x="531" y="26.8" font-size="34.5" class="ar">z</text>
<text x="619.6" y="90.6" font-size="36" class="ar">x</text>
<text x="470" y="60.2" font-size="34.5" class="ar">y</text>
<line x1="321.9" y1="178.3" x2="381.6" y2="166.1" stroke="#000" stroke-width="4.4" stroke-linecap="butt"/>
<path d="M403.5 161.6 L374.3 178.6 L380.6 166.3 L370.0 157.4 Z M300.0 182.8 L329.2 165.8 L322.9 178.1 L333.5 187.0 Z" fill="#000"/>
<text x="338.5" y="209.3" font-size="44" class="ar">d</text>
<path d="M439.3 134.1 L525.5 118.2 L525.5 290 L439.3 322.8 Z" fill="none" stroke="#000" stroke-width="1.6"/>
<path d="M525.5 118.3 L798 56.8 M525.5 290 L798 287" stroke="#000" stroke-width="2" stroke-dasharray="2 2.2" fill="none"/>
<rect x="798.0" y="56.6" width="419.3" height="230.4" fill="#cde7e7"/>
<rect x="798.0" y="56.6" width="419.3" height="32.4" fill="url(#gAuT)"/>
<rect x="798.0" y="240" width="419.3" height="47.0" fill="url(#gAuB)"/>
<rect x="985.8" y="56.6" width="43.4" height="30.4" fill="#fff"/>
<rect x="798.0" y="56.6" width="419.3" height="230.4" fill="none" stroke="#000" stroke-width="1.3"/>
<line x1="846.2" x2="846.2" y1="84" y2="245" stroke="#000" stroke-width="4.0"/>
<path d="M846.2 91.0 L837.0 64.5 L846.2 70.3 L855.4 64.5 Z M846.2 238.0 L855.4 264.5 L846.2 258.7 L837.0 264.5 Z" fill="#000"/>
<line x1="985.8" x2="1029.2" y1="87" y2="87" stroke="#000" stroke-width="1.8"/>
<path d="M987.5 87.0 L965.5 94.2 L972.5 87.0 L965.5 79.8 Z M1027.5 87.0 L1049.5 79.8 L1042.5 87.0 L1049.5 94.2 Z" fill="#000"/>
<line x1="1122.6" x2="1122.6" y1="56.6" y2="89" stroke="#000" stroke-width="1.8"/>
<path d="M1122.6 58.0 L1116.3 40.0 L1122.6 45.8 L1128.9 40.0 Z M1122.6 88.0 L1128.9 107.5 L1122.6 101.3 L1116.3 107.5 Z" fill="#000"/>
<line x1="815" x2="1205" y1="320.9" y2="320.9" stroke="#000" stroke-width="4.4"/>
<path d="M794.6 320.9 L828.1 310.9 L822.7 320.9 L828.1 330.9 Z M1225.3 320.9 L1191.8 330.9 L1197.2 320.9 L1191.8 310.9 Z" fill="#000"/>
<line x1="814.8" x2="814.8" y1="267.5" y2="248" stroke="#000" stroke-width="2.4"/>
<line x1="821.3" x2="840" y1="274.2" y2="274.2" stroke="#000" stroke-width="2.4"/>
<path d="M814.8 237.2 L819.5 250.2 L814.8 247.6 L810.1 250.2 Z M850.0 274.2 L837.0 278.9 L839.6 274.2 L837.0 269.5 Z" fill="#000"/>
<circle cx="814.8" cy="274.2" r="6.3" fill="none" stroke="#000" stroke-width="1.9"/>
<path d="M810.4 269.8 L819.2 278.6 M819.2 269.8 L810.4 278.6" stroke="#000" stroke-width="1.9"/>
<g class="it">
<text x="806.8" y="235" font-size="26">z</text>
<text x="851" y="278.8" font-size="26">x</text>
<text x="806" y="298.8" font-size="26">y</text>
<text x="853.6" y="168" font-size="35">h<tspan font-size="21.6" dy="7" dx="-1">ZnS</tspan></text>
<text x="1061.5" y="79.8" font-size="35">h<tspan font-size="21.2" dy="6.6" dx="-1">Au</tspan></text>
<text x="996.2" y="120.2" font-size="33.5">w</text>
<text x="1209.5" y="81.6" font-size="27" text-anchor="end">Au</text>
<text x="1209.5" y="233" font-size="27" text-anchor="end">ZnS</text>
<text x="1209.5" y="276" font-size="27" text-anchor="end">Au</text>
<text x="995.8" y="356" font-size="34">d</text>
</g>
<g clip-path="url(#cb)">
<path d="M137.0 425.6C157.7 426.2 178.3 426.2 199.0 427.5C220.0 428.8 241.1 430.4 262.0 433.3C282.8 436.2 304.5 439.6 324.0 444.7C339.1 448.6 353.2 453.1 366.0 460.3C378.5 467.3 389.7 477.9 400.0 487.3C408.0 494.6 414.8 501.2 420.8 510.2C428.7 522.0 435.3 535.6 441.6 549.7C449.2 566.8 455.9 585.1 462.4 603.7C469.7 624.6 476.1 647.9 483.1 668.1C487.8 681.8 492.1 694.6 497.7 705.5C500.4 710.9 504.4 714.0 508.1 717.0C510.3 718.8 513.0 720.2 515.4 719.7C518.5 719.1 522.2 717.2 524.7 713.9C529.5 707.6 533.6 698.8 537.2 691.0C540.6 683.6 542.7 676.5 545.5 668.1C549.6 655.7 553.5 641.3 558.0 628.6C561.8 617.8 565.8 607.9 570.4 597.5C575.5 585.8 580.9 573.5 587.1 562.1C593.4 550.7 600.4 539.1 607.9 528.9C614.2 520.4 621.3 512.9 628.6 506.0C635.1 499.8 642.2 494.3 649.4 489.4C656.0 484.9 663.5 481.5 670.0 478.0C673.7 476.0 676.2 474.8 680.0 473.0C686.2 470.1 693.2 466.7 700.0 464.0C706.6 461.4 713.3 459.0 720.0 457.0C726.6 455.0 733.3 453.5 740.0 452.0C746.6 450.5 753.3 449.2 760.0 448.0C766.6 446.8 772.5 446.0 780.0 445.0C792.5 443.3 806.6 441.3 820.0 440.0C833.3 438.7 846.7 437.9 860.0 437.0C873.3 436.1 884.3 435.3 900.0 434.5C931.3 433.0 967.2 431.3 1000.8 430.2C1034.4 429.1 1066.6 428.3 1101.5 427.7C1144.6 426.9 1190.5 426.6 1235.0 426.0" fill="none" stroke="#008000" stroke-width="4.4" stroke-dasharray="16.1 6.96" stroke-linejoin="round"/>
<path d="M137.0 425.4C157.7 425.9 178.3 426.3 199.0 427.0C220.0 427.7 241.1 428.2 262.0 429.7C282.7 431.2 304.2 433.3 324.0 435.8C338.9 437.6 352.5 439.4 366.0 442.6C377.8 445.4 389.4 449.5 400.0 453.6C407.7 456.6 414.2 459.8 420.8 464.0C428.0 468.6 435.0 474.0 441.6 480.0C448.9 486.6 456.0 493.8 462.4 501.9C469.9 511.4 476.9 521.7 483.1 533.0C490.7 546.7 497.7 562.4 503.9 576.7C508.8 588.0 512.5 598.5 516.4 609.9C520.8 622.7 524.7 636.2 528.9 649.4C533.0 662.6 537.2 676.5 541.3 688.9C544.1 697.3 546.7 704.9 549.7 711.8C551.2 715.2 553.2 719.7 554.9 719.7C556.6 719.7 559.0 715.7 560.0 711.8C562.8 701.2 564.3 687.7 566.3 676.4C567.8 668.0 568.7 659.7 570.4 652.5C571.1 649.7 572.5 646.3 573.6 646.3C574.6 646.3 576.0 649.7 576.7 652.5C578.4 659.7 579.2 668.2 580.8 676.4C582.7 686.5 584.2 698.2 587.1 707.6C588.7 712.7 591.6 718.9 594.3 719.7C596.5 720.3 599.6 715.5 601.6 711.8C605.5 704.5 608.5 696.1 612.0 686.8C617.5 671.9 622.6 655.0 628.6 639.0C635.1 621.8 642.8 603.3 649.4 587.1C653.3 577.6 656.3 570.1 660.0 562.0C663.2 555.0 666.5 548.4 670.0 542.0C673.1 536.4 676.4 531.0 680.0 526.0C683.1 521.7 686.5 517.7 690.0 514.0C693.1 510.7 696.5 507.6 700.0 505.0C703.2 502.6 706.6 500.5 710.0 499.0C712.6 497.8 715.5 496.7 718.0 497.0C720.5 497.3 722.8 501.5 725.0 501.0C727.5 500.5 729.5 496.1 732.0 494.0C734.2 492.2 736.5 489.6 739.0 489.4C741.8 489.2 745.1 493.1 748.0 493.0C750.8 492.9 753.6 488.8 756.0 488.6C757.6 488.5 758.9 492.5 760.0 492.0C761.5 491.3 762.5 487.3 764.0 485.0C765.8 482.3 767.6 479.4 770.0 477.0C772.9 474.1 776.5 471.1 780.0 469.0C783.1 467.1 786.7 465.6 790.0 465.0C792.7 464.6 795.4 466.7 798.0 466.0C801.4 465.1 804.4 461.6 808.0 460.0C811.8 458.3 815.7 457.4 820.0 456.0C826.3 454.0 833.3 451.7 840.0 450.0C846.6 448.3 853.3 446.9 860.0 446.0C866.6 445.1 873.7 444.5 880.0 444.4C883.7 444.4 886.6 445.0 890.0 445.6C894.2 446.4 898.6 448.7 903.0 448.6C907.6 448.5 912.3 444.8 917.0 444.8C921.8 444.8 926.2 449.0 931.5 448.4C939.9 447.5 949.0 440.8 958.0 440.3C967.5 439.8 977.8 445.2 987.0 445.3C993.7 445.4 999.1 440.4 1005.8 440.8C1015.1 441.4 1025.6 448.6 1034.8 448.4C1042.3 448.3 1048.9 442.2 1056.0 439.8C1062.6 437.6 1069.0 436.1 1076.0 434.8C1084.2 433.3 1092.0 432.2 1101.5 431.5C1117.3 430.3 1133.8 429.6 1152.0 429.0C1178.3 428.2 1207.3 427.8 1235.0 427.2" fill="none" stroke="#008000" stroke-width="4.4" stroke-linejoin="round"/>
</g>
<g clip-path="url(#cc)">
<path d="M137.0 807.7C187.3 808.8 240.7 809.4 288.0 811.0C316.2 811.9 339.5 813.4 363.7 815.2C381.5 816.5 397.4 818.7 414.0 820.3C429.5 821.8 445.7 822.7 460.0 824.5C468.0 825.5 473.9 827.2 480.8 828.7C487.8 830.3 494.7 832.1 501.6 833.8C508.5 835.5 515.5 837.3 522.4 839.0C529.3 840.7 536.2 842.3 543.1 844.2C550.1 846.1 557.0 848.3 563.9 850.5C570.9 852.8 577.8 855.3 584.7 857.7C591.6 860.1 598.6 862.4 605.5 865.0C612.5 867.6 619.4 870.5 626.3 873.3C633.2 876.1 640.1 879.2 647.1 881.7C653.9 884.1 660.9 886.2 667.9 887.9C674.7 889.6 681.8 891.0 688.6 892.0C694.3 892.9 699.8 893.4 705.3 893.7C710.5 894.0 715.4 894.3 720.8 893.9C727.5 893.4 734.7 892.2 741.6 891.0C748.6 889.8 755.5 888.6 762.4 886.9C769.4 885.2 776.2 883.1 783.1 881.0C790.1 878.9 797.0 876.6 803.9 874.4C810.8 872.3 817.8 870.2 824.7 868.1C831.6 866.0 838.5 863.9 845.5 861.9C852.4 859.9 859.4 858.1 866.3 856.3C873.2 854.5 880.2 852.8 887.1 851.1C894.0 849.4 901.0 847.8 907.9 846.3C914.8 844.8 921.7 843.5 928.6 842.2C935.5 840.9 942.5 839.7 949.4 838.6C956.3 837.6 962.7 837.0 970.0 835.9C980.1 834.4 990.6 832.1 1001.6 830.7C1015.0 829.0 1029.3 827.8 1043.1 826.6C1057.0 825.4 1070.8 824.4 1084.7 823.5C1098.6 822.6 1112.4 822.0 1126.3 821.4C1140.2 820.8 1153.0 820.4 1167.9 819.9C1189.2 819.2 1212.6 818.5 1235.0 817.8" fill="none" stroke="#ffa200" stroke-width="4.4" stroke-dasharray="16.1 6.96" stroke-linejoin="round"/>
<path d="M137.0 807.2C152.0 807.5 168.2 807.4 182.0 808.0C185.8 808.2 187.5 808.8 190.0 809.5C192.1 810.1 194.0 812.0 196.0 812.0C198.0 812.0 199.9 810.1 202.0 809.5C204.5 808.8 205.6 808.2 210.0 808.2C234.2 808.1 262.1 808.5 288.0 809.0C313.3 809.5 339.5 810.2 363.7 811.0C381.5 811.6 397.4 812.2 414.0 813.2C429.5 814.1 445.3 815.4 460.0 816.6C471.0 817.5 481.1 818.5 491.2 819.7C499.8 820.8 508.2 822.0 516.1 823.5C522.0 824.6 527.6 825.8 532.7 827.6C536.6 828.9 540.0 830.7 543.1 832.8C545.6 834.5 547.7 836.5 549.4 839.0C551.5 842.1 553.3 845.4 554.6 849.4C556.4 855.1 557.6 861.6 558.7 868.1C560.0 876.1 561.1 884.7 561.9 893.1C562.8 902.0 563.3 910.9 563.9 920.1C564.6 930.3 565.4 940.9 566.0 951.3C566.6 961.7 567.1 972.7 567.7 982.5C568.0 988.6 568.2 994.0 568.7 999.1C568.9 1001.3 569.6 1004.3 570.0 1004.3C570.4 1004.3 570.9 1001.3 571.2 999.1C571.8 994.0 572.3 988.6 572.7 982.5C573.3 972.7 573.8 961.7 574.3 951.3C574.9 940.9 575.3 930.3 576.0 920.1C576.6 910.9 577.3 901.8 578.1 893.1C578.8 885.9 579.5 878.9 580.6 872.3C581.4 867.1 582.4 862.4 583.7 857.7C584.8 853.7 586.0 849.7 587.8 846.3C589.1 843.8 590.8 841.6 593.0 840.1C595.3 838.5 598.5 837.6 601.3 837.0C604.0 836.4 606.6 836.1 609.7 836.3C614.9 836.6 620.7 837.2 626.3 838.6C633.2 840.2 640.2 842.8 647.1 845.3C654.1 847.8 661.2 850.6 667.9 853.6C673.7 856.2 679.3 858.8 684.5 861.9C689.0 864.7 693.2 867.9 697.0 871.3C700.2 874.2 703.0 877.2 705.3 880.6C707.5 883.8 709.1 887.2 710.5 891.0C712.2 895.6 713.5 900.5 714.6 905.6C715.9 911.6 716.7 918.1 717.7 924.3C718.6 929.9 719.4 935.5 720.2 940.9C720.9 945.2 721.3 949.7 722.3 953.4C722.7 954.9 723.9 957.0 724.5 956.5C725.6 955.6 726.5 951.7 727.4 949.2C728.4 946.5 728.9 943.3 730.1 940.9C730.7 939.6 732.0 937.9 732.8 938.2C733.9 938.6 735.1 940.8 735.8 943.0C737.4 948.0 738.4 954.1 739.5 959.6C740.6 965.1 741.5 971.0 742.6 976.2C743.3 979.6 744.0 982.9 745.1 985.6C745.6 986.9 746.7 988.7 747.4 988.3C748.5 987.7 749.3 984.5 750.3 982.5C751.3 980.4 752.5 976.2 753.4 976.2C754.3 976.2 754.9 980.3 755.7 982.5C756.7 985.2 757.9 990.8 758.8 990.8C759.7 990.8 760.4 985.9 760.9 982.5C761.8 975.5 762.2 967.1 763.0 959.6C763.7 952.6 764.4 945.3 765.5 938.8C766.2 934.6 767.3 930.8 768.6 927.4C769.4 925.3 770.4 923.5 771.7 922.2C772.6 921.2 774.0 920.4 775.2 920.5C776.8 920.7 778.7 921.7 780.0 923.2C782.1 925.7 783.7 929.2 785.2 932.6C786.9 936.5 788.2 940.7 789.4 945.0C790.8 949.7 791.6 955.1 793.1 959.6C794.1 962.5 795.5 967.1 796.7 967.3C797.8 967.5 798.9 963.0 799.8 960.6C800.9 957.7 801.7 954.1 802.9 951.3C803.7 949.3 804.7 947.5 806.0 946.1C807.1 944.9 808.7 943.8 810.2 943.6C811.8 943.3 813.7 944.3 815.4 944.6C817.1 944.9 818.8 945.7 820.6 945.5C823.3 945.2 826.2 943.9 828.9 943.0C831.7 942.1 834.4 940.7 837.2 939.9C839.9 939.1 842.7 938.7 845.5 938.4C848.2 938.2 851.1 938.2 853.8 938.4C856.6 938.7 859.4 939.1 862.1 939.9C864.9 940.7 867.9 941.6 870.4 943.0C872.8 944.3 874.9 946.1 876.7 948.2C879.0 950.9 881.1 954.1 882.9 957.5C884.9 961.4 886.6 965.7 888.1 970.0C889.7 974.7 891.0 979.6 892.3 984.5C893.8 990.0 895.0 995.9 896.4 1001.2C897.4 1005.2 898.2 1009.1 899.5 1012.6C900.5 1015.3 902.0 1019.5 903.3 1019.9C904.4 1020.2 905.8 1016.7 906.8 1014.7C908.4 1011.5 909.6 1007.6 911.0 1004.3C912.0 1002.0 912.9 999.8 914.1 998.1C914.7 997.2 915.9 996.2 916.6 996.6C917.8 997.2 919.0 999.3 919.9 1001.2C921.3 1004.3 922.3 1008.0 923.4 1011.6C924.7 1015.6 925.8 1020.0 927.0 1024.0C927.9 1027.0 928.7 1029.9 929.7 1032.4C930.1 1033.4 930.8 1034.7 931.3 1034.4C932.1 1034.0 933.2 1032.2 933.8 1030.3C935.1 1025.9 936.0 1020.9 937.0 1015.7C938.4 1008.5 939.6 1000.3 941.1 992.9C942.4 986.4 943.7 980.1 945.3 974.1C946.5 969.7 947.8 965.6 949.4 961.7C950.6 958.7 951.9 955.7 953.6 953.4C954.7 951.9 956.3 951.0 957.7 950.2C958.7 949.6 960.0 948.7 960.9 949.2C962.5 950.1 964.0 952.3 965.2 954.4C967.1 957.8 969.0 961.6 970.4 965.9C972.5 972.3 973.9 979.7 975.6 986.6C977.3 993.5 979.1 1000.9 980.8 1007.4C981.8 1011.3 982.6 1014.7 983.9 1017.8C984.7 1019.6 986.0 1022.3 987.0 1022.0C988.4 1021.6 990.1 1018.4 991.2 1015.7C993.2 1010.7 994.5 1004.5 996.4 999.1C998.0 994.4 999.4 989.4 1001.6 985.6C1002.8 983.5 1005.1 981.2 1006.8 981.4C1008.6 981.6 1010.7 984.1 1012.0 986.6C1014.5 991.4 1016.3 997.4 1018.2 1003.2C1020.4 1009.9 1022.3 1017.1 1024.4 1024.0C1026.5 1030.9 1028.5 1038.3 1030.7 1044.8C1032.0 1048.7 1033.2 1052.3 1034.8 1055.2C1035.6 1056.6 1036.9 1058.1 1037.9 1057.7C1039.4 1057.1 1041.1 1054.6 1042.1 1052.1C1044.2 1046.9 1045.7 1040.8 1047.3 1034.4C1049.5 1025.2 1051.4 1015.0 1053.5 1005.3C1055.6 995.6 1057.6 985.7 1059.8 976.2C1061.8 967.7 1063.7 959.6 1066.0 951.3C1068.5 942.3 1071.0 933.0 1074.3 924.3C1077.3 916.3 1080.8 908.4 1084.7 901.4C1087.7 896.0 1091.3 891.2 1095.1 886.9C1098.3 883.3 1101.8 880.2 1105.5 877.5C1108.8 875.0 1112.4 872.9 1115.9 871.3C1118.6 870.1 1121.5 869.2 1124.2 869.2C1126.4 869.2 1128.4 870.5 1130.4 871.3C1132.5 872.2 1134.8 874.9 1136.7 874.4C1139.0 873.8 1140.9 870.5 1142.9 868.1C1145.7 864.9 1147.8 860.5 1151.2 857.7C1154.8 854.7 1159.2 852.4 1163.7 850.5C1168.9 848.3 1174.7 846.8 1180.3 845.3C1185.8 843.8 1191.6 842.7 1197.0 841.7C1201.3 840.9 1205.3 840.5 1209.4 840.1C1212.9 839.8 1216.4 839.6 1219.8 839.7C1222.7 839.8 1225.4 840.2 1228.1 840.7C1230.5 841.1 1232.7 841.9 1235.0 842.5" fill="none" stroke="#ffa200" stroke-width="4.4" stroke-linejoin="round"/>
</g>
<g clip-path="url(#cd)">
<path d="M137.0 1451.2C151.3 1451.2 166.7 1451.7 179.8 1451.2C184.7 1451.0 187.4 1449.8 191.0 1449.2C193.3 1448.8 195.2 1448.2 197.5 1448.4C200.7 1448.7 204.0 1450.0 207.5 1450.5C211.5 1451.1 213.6 1451.3 220.0 1451.5C248.9 1452.2 282.9 1452.4 313.3 1453.0C339.3 1453.5 364.8 1454.2 389.0 1455.0C406.8 1455.6 423.7 1456.7 439.3 1457.3C447.3 1457.6 452.7 1457.4 460.0 1457.9C470.0 1458.6 481.0 1460.3 491.2 1461.0C499.7 1461.6 508.1 1462.0 516.1 1462.0C522.0 1462.0 527.5 1461.8 532.7 1461.0C536.5 1460.4 540.0 1459.5 543.1 1457.9C545.9 1456.4 548.5 1454.3 550.4 1451.6C552.7 1448.4 554.3 1444.5 555.6 1440.2C557.5 1433.8 558.7 1426.5 559.8 1419.4C561.1 1411.3 562.0 1403.1 562.9 1394.5C563.9 1384.4 564.8 1373.5 565.6 1363.3C566.4 1354.1 566.9 1344.9 567.7 1336.3C568.2 1330.3 568.7 1324.8 569.5 1319.7C569.7 1318.2 570.5 1315.7 570.8 1316.5C571.4 1318.5 571.9 1323.5 572.2 1328.0C572.9 1337.0 573.3 1347.1 573.9 1357.1C574.6 1369.2 575.2 1382.3 576.0 1394.5C576.7 1405.2 577.4 1415.8 578.5 1425.7C579.3 1433.1 580.2 1439.9 581.6 1446.5C582.7 1451.7 583.7 1456.7 585.8 1461.0C587.5 1464.6 589.9 1468.1 593.0 1470.4C596.4 1472.9 600.9 1474.2 605.5 1475.5C612.0 1477.3 619.3 1478.7 626.3 1479.7C633.2 1480.6 640.6 1480.9 647.1 1481.2C651.0 1481.4 653.6 1481.5 657.5 1481.2C664.0 1480.7 671.7 1480.1 678.3 1478.7C683.5 1477.6 688.5 1475.6 692.8 1473.5C695.7 1472.1 697.9 1470.2 700.0 1468.0C702.3 1465.7 704.5 1463.0 706.2 1460.0C708.3 1456.5 709.9 1452.5 711.4 1448.5C713.1 1443.9 714.4 1439.0 715.6 1434.0C716.9 1428.6 717.7 1422.9 718.7 1417.3C719.7 1411.8 720.4 1405.7 721.8 1400.7C722.4 1398.6 723.6 1395.9 724.5 1396.1C725.5 1396.3 726.5 1399.8 727.4 1401.8C728.4 1404.1 729.0 1406.9 730.1 1409.0C730.8 1410.2 732.0 1412.0 732.8 1411.7C733.9 1411.3 735.1 1409.1 735.8 1407.0C737.3 1402.6 738.4 1397.3 739.5 1392.4C740.6 1387.6 741.5 1382.5 742.6 1377.9C743.4 1374.5 744.0 1371.2 745.1 1368.5C745.6 1367.3 746.6 1365.9 747.4 1366.0C748.4 1366.2 749.4 1368.2 750.3 1369.5C751.5 1371.1 752.6 1374.7 753.6 1374.7C754.5 1374.7 755.4 1371.4 756.1 1369.5C757.1 1367.0 758.0 1361.6 758.8 1361.6C759.6 1361.6 760.4 1366.4 760.9 1369.5C761.8 1375.3 762.2 1382.1 763.0 1388.3C763.7 1393.9 764.4 1399.7 765.5 1404.9C766.2 1408.4 767.3 1411.5 768.6 1414.2C769.4 1415.8 770.5 1417.1 771.7 1418.0C772.6 1418.6 773.8 1419.0 774.8 1418.8C776.2 1418.5 777.8 1417.6 779.0 1416.3C780.9 1414.3 782.8 1411.7 784.2 1409.0C785.9 1405.8 787.1 1402.3 788.3 1398.6C789.8 1394.0 791.2 1388.7 792.5 1384.1C793.5 1380.8 794.1 1377.4 795.2 1374.7C795.6 1373.6 796.5 1372.3 797.1 1372.7C798.1 1373.4 798.9 1376.1 799.8 1377.9C800.9 1380.2 801.7 1382.9 802.9 1385.1C803.9 1386.7 805.1 1388.2 806.4 1389.3C807.2 1390.0 808.1 1390.4 809.1 1390.3C810.7 1390.1 812.5 1389.0 814.3 1388.3C816.4 1387.5 818.4 1386.2 820.6 1385.8C823.2 1385.4 826.1 1385.7 828.9 1385.8C831.7 1385.9 834.4 1386.3 837.2 1386.2C840.0 1386.1 842.8 1385.6 845.5 1385.1C848.3 1384.6 851.1 1384.0 853.8 1383.1C856.6 1382.2 859.4 1381.2 862.1 1379.9C865.0 1378.4 867.9 1376.7 870.4 1374.7C872.7 1372.9 874.9 1370.9 876.7 1368.5C879.0 1365.4 881.1 1361.8 882.9 1358.1C884.9 1353.9 886.6 1349.2 888.1 1344.6C889.7 1339.9 890.9 1334.9 892.3 1330.1C893.7 1325.2 895.0 1320.1 896.4 1315.5C897.4 1312.1 898.3 1308.9 899.5 1306.1C900.2 1304.4 901.0 1303.0 902.0 1302.0C902.5 1301.4 903.5 1301.0 904.1 1301.4C905.1 1302.1 905.9 1303.6 906.8 1305.1C908.2 1307.6 909.5 1310.9 911.0 1313.4C912.0 1315.0 912.9 1316.5 914.1 1317.6C914.8 1318.3 915.9 1319.0 916.6 1318.6C917.8 1318.0 919.0 1316.2 919.9 1314.5C921.3 1311.7 922.3 1308.4 923.4 1305.1C924.7 1301.1 925.7 1296.5 927.0 1292.6C927.8 1290.0 928.6 1287.4 929.7 1285.4C930.2 1284.5 931.2 1283.6 931.8 1283.9C932.8 1284.3 933.9 1285.7 934.5 1287.4C935.9 1291.4 936.5 1296.2 937.6 1300.9C938.9 1306.9 940.2 1313.6 941.7 1319.7C943.0 1324.7 944.4 1329.6 945.9 1334.2C947.1 1337.9 948.3 1341.5 950.0 1344.6C951.2 1347.0 952.8 1349.2 954.6 1350.8C956.1 1352.1 958.2 1353.6 959.8 1353.3C961.7 1352.9 963.9 1351.0 965.2 1348.8C967.4 1345.3 968.9 1340.8 970.4 1336.3C972.4 1330.4 973.9 1323.8 975.6 1317.6C977.3 1311.4 979.1 1304.7 980.8 1298.9C981.8 1295.4 982.5 1292.2 983.9 1289.5C984.6 1288.1 986.1 1286.4 987.0 1286.8C988.4 1287.4 989.7 1290.3 990.8 1292.6C992.5 1296.4 993.6 1301.1 995.3 1305.1C996.8 1308.7 998.4 1312.6 1000.5 1315.5C1002.0 1317.5 1004.3 1319.9 1006.1 1319.7C1008.1 1319.5 1010.5 1317.0 1012.0 1314.5C1014.6 1310.1 1016.3 1304.3 1018.2 1298.9C1020.4 1292.8 1022.3 1286.4 1024.4 1280.2C1026.4 1274.2 1028.6 1268.0 1030.7 1262.5C1032.0 1259.0 1033.1 1255.7 1034.8 1253.1C1035.7 1251.7 1037.4 1250.3 1038.6 1250.6C1040.2 1251.0 1042.0 1253.0 1043.1 1255.2C1045.2 1259.4 1046.7 1264.4 1048.3 1269.8C1050.6 1277.6 1052.6 1286.3 1054.6 1294.7C1056.7 1303.6 1058.6 1312.9 1060.8 1321.7C1062.7 1329.5 1064.6 1337.2 1067.0 1344.6C1069.1 1351.1 1071.4 1357.2 1074.3 1363.3C1077.3 1369.7 1080.9 1376.3 1084.7 1382.0C1087.8 1386.7 1091.4 1390.8 1095.1 1394.5C1098.3 1397.7 1101.9 1400.4 1105.5 1402.8C1108.8 1404.9 1112.4 1406.7 1115.9 1408.0C1118.6 1409.0 1121.5 1409.7 1124.2 1409.7C1126.4 1409.7 1128.4 1408.8 1130.4 1408.0C1132.6 1407.2 1134.7 1404.6 1136.7 1404.9C1138.9 1405.3 1140.8 1408.2 1142.9 1410.1C1145.7 1412.7 1148.0 1416.1 1151.2 1418.4C1154.9 1421.0 1159.2 1423.1 1163.7 1424.6C1168.9 1426.4 1174.7 1427.3 1180.3 1428.4C1185.8 1429.4 1191.6 1430.3 1197.0 1430.9C1201.3 1431.4 1205.3 1431.7 1209.4 1431.9C1212.9 1432.1 1216.4 1432.1 1219.8 1431.9C1222.7 1431.7 1225.4 1431.3 1228.1 1430.9C1230.5 1430.5 1232.7 1430.0 1235.0 1429.5" fill="none" stroke="#ffa200" stroke-width="4.4" stroke-linejoin="round"/>
<path d="M137.0 1461.8C145.4 1461.6 154.3 1461.7 162.2 1461.3C166.9 1461.1 170.9 1460.9 174.8 1460.0C177.6 1459.4 180.5 1458.7 182.3 1456.8C184.7 1454.3 185.5 1448.0 187.4 1446.7C188.5 1445.9 190.3 1451.6 191.2 1450.5C193.2 1448.2 194.6 1437.3 196.2 1436.6C197.5 1436.0 198.4 1443.6 200.0 1446.7C201.4 1449.4 202.9 1452.1 205.0 1454.2C207.1 1456.3 210.1 1458.6 212.6 1459.3C214.3 1459.7 215.9 1457.3 217.6 1457.5C219.7 1457.7 221.5 1460.0 224.0 1460.5C228.2 1461.3 229.1 1461.5 237.8 1461.5C307.7 1461.6 391.3 1461.3 460.0 1461.0C475.8 1460.9 481.1 1460.8 491.2 1460.4C499.8 1460.1 508.2 1459.7 516.1 1458.9C522.0 1458.3 527.5 1457.6 532.7 1456.4C536.5 1455.5 540.0 1454.5 543.1 1452.7C546.2 1450.9 549.3 1448.5 551.5 1445.4C554.2 1441.6 556.3 1437.0 557.7 1431.9C559.7 1424.8 560.8 1417.0 561.9 1409.0C563.3 1399.0 564.2 1388.7 565.0 1377.9C566.0 1364.5 566.5 1350.2 567.1 1336.3C567.7 1322.4 568.1 1308.6 568.5 1294.7C568.9 1280.8 569.3 1267.0 569.7 1253.1C570.1 1239.3 570.4 1224.6 571.0 1211.6C571.3 1204.1 572.0 1191.8 572.5 1191.8C573.0 1191.8 573.5 1204.1 573.9 1211.6C574.5 1224.6 574.9 1239.3 575.4 1253.1C575.9 1267.0 576.3 1280.4 576.8 1294.7C577.4 1311.6 578.0 1329.8 578.9 1346.7C579.6 1361.0 580.5 1374.9 581.6 1388.3C582.5 1399.1 583.3 1409.6 584.7 1419.4C585.7 1426.2 586.9 1432.3 588.9 1438.1C590.4 1442.4 592.2 1446.6 595.1 1449.6C597.8 1452.3 601.4 1454.1 605.5 1455.2C611.8 1457.0 619.3 1457.7 626.3 1458.3C633.2 1458.9 639.7 1458.9 647.1 1458.9C657.1 1458.9 668.5 1458.9 678.3 1458.5C684.4 1458.2 689.7 1457.7 694.9 1456.8C698.7 1456.1 702.2 1455.2 705.3 1453.7C707.7 1452.5 709.8 1450.7 711.4 1448.5C713.5 1445.5 715.0 1441.6 716.6 1438.1C718.1 1434.7 719.2 1430.8 720.8 1427.7C721.9 1425.5 723.5 1422.3 724.9 1422.1C726.2 1421.9 727.7 1425.0 729.1 1426.7C730.9 1428.9 732.6 1433.4 734.3 1433.6C735.8 1433.8 737.4 1430.1 738.5 1427.7C740.2 1424.0 741.0 1419.1 742.6 1415.3C743.8 1412.6 745.2 1409.9 746.8 1408.0C747.5 1407.2 748.5 1406.6 749.3 1407.0C750.6 1407.7 751.7 1409.9 753.0 1411.1C753.9 1411.9 755.0 1413.7 755.7 1413.2C756.8 1412.3 757.3 1408.9 758.2 1407.0C758.7 1406.0 759.5 1403.9 759.9 1404.5C760.7 1405.9 761.2 1409.9 761.7 1413.2C762.7 1419.0 763.2 1426.1 764.4 1431.9C765.2 1435.8 766.0 1439.2 767.6 1442.3C768.8 1444.8 770.7 1447.0 772.8 1448.5C774.8 1449.9 777.7 1451.0 780.0 1451.0C782.2 1451.0 784.5 1449.9 786.3 1448.5C788.3 1447.0 789.9 1444.4 791.5 1442.3C792.9 1440.4 793.8 1438.0 795.2 1436.5C795.9 1435.8 797.0 1435.0 797.7 1435.6C799.2 1436.9 800.2 1440.4 801.9 1442.3C803.6 1444.2 805.6 1445.9 808.1 1446.9C811.8 1448.3 816.3 1448.7 820.6 1449.6C825.3 1450.5 830.4 1451.6 835.1 1452.3C838.7 1452.8 842.0 1453.2 845.5 1453.1C849.6 1453.0 854.0 1452.5 858.0 1451.6C861.6 1450.8 865.2 1449.7 868.4 1448.1C871.4 1446.6 874.2 1444.5 876.7 1442.3C879.1 1440.2 881.1 1437.7 882.9 1435.0C884.9 1431.8 886.6 1428.2 888.1 1424.6C889.7 1420.9 890.9 1417.0 892.3 1413.2C893.7 1409.4 895.0 1405.3 896.4 1401.8C897.4 1399.4 898.2 1397.2 899.5 1395.5C900.3 1394.4 901.6 1393.2 902.7 1393.4C904.1 1393.6 905.5 1395.4 906.8 1396.6C908.2 1397.9 909.6 1399.6 911.0 1400.7C912.0 1401.5 913.2 1402.8 914.1 1402.4C915.6 1401.8 917.1 1399.7 918.2 1397.6C919.9 1394.3 921.2 1390.1 922.4 1386.2C923.8 1381.8 924.8 1376.8 926.1 1372.7C926.8 1370.4 927.6 1368.6 928.6 1367.0C929.0 1366.3 929.8 1365.5 930.3 1365.8C931.2 1366.3 932.2 1367.8 932.8 1369.5C934.1 1373.2 934.8 1377.7 935.9 1382.0C937.2 1387.4 938.6 1393.3 940.1 1398.6C941.3 1403.0 942.4 1407.3 944.2 1411.1C945.5 1413.9 947.4 1416.5 949.4 1418.4C950.6 1419.5 952.2 1420.3 953.6 1420.0C955.4 1419.6 957.4 1418.1 958.8 1416.3C960.9 1413.5 962.5 1409.5 964.0 1406.0C965.3 1402.9 966.2 1400.0 967.1 1396.6C968.3 1392.0 969.4 1387.3 970.4 1382.0C971.9 1374.1 973.2 1365.3 974.6 1357.1C975.9 1349.4 977.2 1341.3 978.7 1334.2C979.6 1330.2 980.4 1326.8 981.8 1323.8C982.5 1322.3 984.1 1320.2 984.9 1320.7C986.2 1321.6 987.3 1325.0 988.1 1328.0C989.7 1333.7 990.7 1340.7 992.2 1346.7C993.4 1351.5 994.4 1356.4 996.4 1360.2C997.6 1362.5 1000.1 1365.5 1001.6 1365.0C1003.5 1364.4 1005.6 1360.5 1006.8 1357.1C1009.0 1350.9 1010.5 1343.7 1012.0 1336.3C1014.0 1326.4 1015.5 1315.5 1017.2 1305.1C1018.9 1294.7 1020.6 1283.9 1022.4 1273.9C1023.7 1266.5 1025.0 1259.6 1026.5 1253.1C1027.4 1249.2 1028.3 1245.7 1029.6 1242.8C1030.0 1241.8 1031.2 1240.7 1031.7 1241.3C1032.9 1242.8 1034.1 1245.7 1034.8 1249.0C1036.5 1256.6 1037.7 1265.3 1039.0 1273.9C1040.5 1284.0 1041.6 1294.5 1043.1 1305.1C1044.7 1316.7 1046.3 1328.7 1048.3 1340.4C1050.2 1351.6 1052.2 1362.9 1054.6 1373.7C1056.7 1383.0 1059.0 1392.2 1061.9 1400.7C1064.2 1407.4 1066.9 1413.7 1070.2 1419.4C1073.1 1424.4 1076.6 1429.1 1080.6 1432.9C1084.2 1436.4 1088.6 1439.1 1093.0 1441.3C1096.9 1443.3 1101.4 1444.5 1105.5 1445.4C1109.0 1446.2 1112.5 1446.7 1115.9 1446.5C1118.8 1446.3 1121.7 1445.7 1124.2 1444.4C1126.9 1442.9 1129.1 1439.9 1131.5 1438.1C1133.2 1436.8 1135.0 1434.8 1136.7 1435.0C1138.5 1435.2 1140.2 1437.5 1141.9 1439.2C1144.3 1441.7 1146.2 1445.4 1149.1 1447.5C1152.1 1449.6 1155.6 1450.8 1159.5 1451.6C1165.3 1452.8 1171.9 1453.4 1178.3 1453.7C1185.1 1454.1 1192.3 1454.1 1199.0 1453.7C1204.8 1453.4 1210.5 1452.8 1215.7 1451.6C1219.5 1450.7 1222.8 1449.2 1226.1 1447.5C1229.3 1445.8 1232.0 1443.5 1235.0 1441.5" fill="none" stroke="#1f77b4" stroke-width="4.4" stroke-dasharray="16.1 6.96" stroke-linejoin="round"/>
</g>
<rect x="149.5" y="617.2" width="300" height="90.5" rx="5" ry="5" fill="#fff" fill-opacity="0.8" stroke="#cecece" stroke-width="3.1"/>
<line x1="157.8" x2="220.8" y1="639.7" y2="639.7" stroke="#008000" stroke-width="8.2"/>
<line x1="161.5" x2="189.6" y1="680.0" y2="680.0" stroke="#008000" stroke-width="8.2"/>
<line x1="202" x2="216.6" y1="680.0" y2="680.0" stroke="#008000" stroke-width="8.2"/>
<text x="239.1" y="649.0" class="lg">With PMMA</text>
<text x="239.1" y="689.3" class="lg">Without PMMA</text>
<rect x="149.5" y="1002.2" width="300" height="90.5" rx="5" ry="5" fill="#fff" fill-opacity="0.8" stroke="#cecece" stroke-width="3.1"/>
<line x1="157.8" x2="220.8" y1="1024.7" y2="1024.7" stroke="#ffa200" stroke-width="8.2"/>
<line x1="161.5" x2="189.6" y1="1065.0" y2="1065.0" stroke="#ffa200" stroke-width="8.2"/>
<line x1="202" x2="216.6" y1="1065.0" y2="1065.0" stroke="#ffa200" stroke-width="8.2"/>
<text x="239.1" y="1034.0" class="lg">With PMMA</text>
<text x="239.1" y="1074.3" class="lg">Without PMMA</text>
<rect x="137.0" y="399.8" width="1098.0" height="321.1" fill="none" stroke="#000" stroke-width="2.8"/>
<rect x="137.0" y="784.8" width="1098.0" height="320.4" fill="none" stroke="#000" stroke-width="2.8"/>
<rect x="137.0" y="1169.8" width="1098.0" height="320.5" fill="none" stroke="#000" stroke-width="2.8"/>
<line x1="129.5" x2="136.0" y1="720.9" y2="720.9" stroke="#000" stroke-width="1.9"/>
<text x="123.4" y="732.8" text-anchor="end" class="tk">0.00</text>
<line x1="129.5" x2="136.0" y1="644.5" y2="644.5" stroke="#000" stroke-width="1.9"/>
<text x="123.4" y="656.4" text-anchor="end" class="tk">0.25</text>
<line x1="129.5" x2="136.0" y1="568.1" y2="568.1" stroke="#000" stroke-width="1.9"/>
<text x="123.4" y="580.0" text-anchor="end" class="tk">0.50</text>
<line x1="129.5" x2="136.0" y1="491.7" y2="491.7" stroke="#000" stroke-width="1.9"/>
<text x="123.4" y="503.6" text-anchor="end" class="tk">0.75</text>
<line x1="129.5" x2="136.0" y1="415.3" y2="415.3" stroke="#000" stroke-width="1.9"/>
<text x="123.4" y="427.2" text-anchor="end" class="tk">1.00</text>
<line x1="129.5" x2="136.0" y1="1104.9" y2="1104.9" stroke="#000" stroke-width="1.9"/>
<text x="123.4" y="1116.8" text-anchor="end" class="tk">0.00</text>
<line x1="129.5" x2="136.0" y1="1028.7" y2="1028.7" stroke="#000" stroke-width="1.9"/>
<text x="123.4" y="1040.6" text-anchor="end" class="tk">0.25</text>
<line x1="129.5" x2="136.0" y1="952.5" y2="952.5" stroke="#000" stroke-width="1.9"/>
<text x="123.4" y="964.4" text-anchor="end" class="tk">0.50</text>
<line x1="129.5" x2="136.0" y1="876.3" y2="876.3" stroke="#000" stroke-width="1.9"/>
<text x="123.4" y="888.2" text-anchor="end" class="tk">0.75</text>
<line x1="129.5" x2="136.0" y1="800.1" y2="800.1" stroke="#000" stroke-width="1.9"/>
<text x="123.4" y="812.0" text-anchor="end" class="tk">1.00</text>
<line x1="129.5" x2="136.0" y1="1451.0" y2="1451.0" stroke="#ffa200" stroke-width="1.9"/>
<text x="123.4" y="1462.9" text-anchor="end" class="tk">0.00</text>
<line x1="129.5" x2="136.0" y1="1384.0" y2="1384.0" stroke="#ffa200" stroke-width="1.9"/>
<text x="123.4" y="1396.0" text-anchor="end" class="tk">0.25</text>
<line x1="129.5" x2="136.0" y1="1317.1" y2="1317.1" stroke="#ffa200" stroke-width="1.9"/>
<text x="123.4" y="1329.0" text-anchor="end" class="tk">0.50</text>
<line x1="129.5" x2="136.0" y1="1250.2" y2="1250.2" stroke="#ffa200" stroke-width="1.9"/>
<text x="123.4" y="1262.1" text-anchor="end" class="tk">0.75</text>
<line x1="129.5" x2="136.0" y1="1183.2" y2="1183.2" stroke="#ffa200" stroke-width="1.9"/>
<text x="123.4" y="1195.1" text-anchor="end" class="tk">1.00</text>
<line x1="137.0" x2="137.0" y1="721.9" y2="728.4" stroke="#000" stroke-width="1.9"/>
<line x1="293.9" x2="293.9" y1="721.9" y2="728.4" stroke="#000" stroke-width="1.9"/>
<line x1="450.7" x2="450.7" y1="721.9" y2="728.4" stroke="#000" stroke-width="1.9"/>
<line x1="607.6" x2="607.6" y1="721.9" y2="728.4" stroke="#000" stroke-width="1.9"/>
<line x1="764.4" x2="764.4" y1="721.9" y2="728.4" stroke="#000" stroke-width="1.9"/>
<line x1="921.3" x2="921.3" y1="721.9" y2="728.4" stroke="#000" stroke-width="1.9"/>
<line x1="1078.1" x2="1078.1" y1="721.9" y2="728.4" stroke="#000" stroke-width="1.9"/>
<line x1="1235.0" x2="1235.0" y1="721.9" y2="728.4" stroke="#000" stroke-width="1.9"/>
<line x1="137.0" x2="137.0" y1="1106.2" y2="1112.7" stroke="#000" stroke-width="1.9"/>
<line x1="293.9" x2="293.9" y1="1106.2" y2="1112.7" stroke="#000" stroke-width="1.9"/>
<line x1="450.7" x2="450.7" y1="1106.2" y2="1112.7" stroke="#000" stroke-width="1.9"/>
<line x1="607.6" x2="607.6" y1="1106.2" y2="1112.7" stroke="#000" stroke-width="1.9"/>
<line x1="764.4" x2="764.4" y1="1106.2" y2="1112.7" stroke="#000" stroke-width="1.9"/>
<line x1="921.3" x2="921.3" y1="1106.2" y2="1112.7" stroke="#000" stroke-width="1.9"/>
<line x1="1078.1" x2="1078.1" y1="1106.2" y2="1112.7" stroke="#000" stroke-width="1.9"/>
<line x1="1235.0" x2="1235.0" y1="1106.2" y2="1112.7" stroke="#000" stroke-width="1.9"/>
<line x1="137.0" x2="137.0" y1="1491.3" y2="1497.8" stroke="#ffa200" stroke-width="1.9"/>
<text x="137.0" y="1528.5" text-anchor="middle" class="tk">3</text>
<line x1="293.9" x2="293.9" y1="1491.3" y2="1497.8" stroke="#ffa200" stroke-width="1.9"/>
<text x="293.9" y="1528.5" text-anchor="middle" class="tk">4</text>
<line x1="450.7" x2="450.7" y1="1491.3" y2="1497.8" stroke="#ffa200" stroke-width="1.9"/>
<text x="450.7" y="1528.5" text-anchor="middle" class="tk">5</text>
<line x1="607.6" x2="607.6" y1="1491.3" y2="1497.8" stroke="#ffa200" stroke-width="1.9"/>
<text x="607.6" y="1528.5" text-anchor="middle" class="tk">6</text>
<line x1="764.4" x2="764.4" y1="1491.3" y2="1497.8" stroke="#ffa200" stroke-width="1.9"/>
<text x="764.4" y="1528.5" text-anchor="middle" class="tk">7</text>
<line x1="921.3" x2="921.3" y1="1491.3" y2="1497.8" stroke="#ffa200" stroke-width="1.9"/>
<text x="921.3" y="1528.5" text-anchor="middle" class="tk">8</text>
<line x1="1078.1" x2="1078.1" y1="1491.3" y2="1497.8" stroke="#ffa200" stroke-width="1.9"/>
<text x="1078.1" y="1528.5" text-anchor="middle" class="tk">9</text>
<line x1="1235.0" x2="1235.0" y1="1491.3" y2="1497.8" stroke="#ffa200" stroke-width="1.9"/>
<text x="1235.0" y="1528.5" text-anchor="middle" class="tk">10</text>
<line x1="1236.0" x2="1242.5" y1="1462.2" y2="1462.2" stroke="#1f77b4" stroke-width="1.9"/>
<text x="1248" y="1474.1" class="tk">0.0</text>
<line x1="1236.0" x2="1242.5" y1="1364.7" y2="1364.7" stroke="#1f77b4" stroke-width="1.9"/>
<text x="1248" y="1376.6" class="tk">0.5</text>
<line x1="1236.0" x2="1242.5" y1="1267.2" y2="1267.2" stroke="#1f77b4" stroke-width="1.9"/>
<text x="1248" y="1279.1" class="tk">1.0</text>
<line x1="1236.0" x2="1242.5" y1="1169.7" y2="1169.7" stroke="#1f77b4" stroke-width="1.9"/>
<text x="1248" y="1181.6" class="tk">1.5</text>
<text transform="translate(27.2,944.6) rotate(-90)" text-anchor="middle" class="al" style="font-size:31.6px">Reflectivity</text>
<text transform="translate(26.8,1330.5) rotate(-90)" text-anchor="middle" class="al" fill="#ffa200">ΔR</text>
<text transform="translate(1342.5,1330) rotate(-90)" text-anchor="middle" class="al" fill="#1f77b4">Im(ε<tspan font-size="22.4" dy="5.5">PMMA</tspan><tspan dy="-5.5">)</tspan></text>
<text x="686" y="1577.6" text-anchor="middle" class="al">Wavelength (µm)</text>
<text x="156.3" y="59" class="pl">a.</text>
<text x="153" y="470.8" class="pl">b.</text>
<text x="157.6" y="843.4" class="pl">c.</text>
<text x="156.6" y="1234" class="pl">d.</text>
<text x="818.6" y="696.4" font-size="44.6" fill="#008000" class="dv">Critical coupling</text>
<text x="859" y="1089.5" font-size="44.3" fill="#ffa200" class="dv">Overcoupling</text>
<line x1="285.0" x2="198.6" y1="1316.2" y2="1316.2" stroke="#ffa200" stroke-width="5"/>
<path d="M178.6 1316.2 L216.1 1305.6 L209.1 1316.2 L216.1 1326.8 Z" fill="#ffa200" stroke="#ffa200" stroke-width="1.5" stroke-linejoin="round"/>
<line x1="1095.7" x2="1182.2" y1="1259.0" y2="1259.0" stroke="#1f77b4" stroke-width="5"/>
<path d="M1202.2 1259.0 L1164.7 1248.4 L1171.7 1259.0 L1164.7 1269.6 Z" fill="#1f77b4" stroke="#1f77b4" stroke-width="1.5" stroke-linejoin="round"/>
<g clip-path="url(#ci)">
<rect x="800.3" y="503.0" width="370.4" height="130.2" fill="#0b0000"/>
<rect x="800.3" y="503.0" width="370.4" height="44.7" fill="url(#gTopHaze)" clip-path="url(#cabove)"/>
<rect x="800.3" y="566.4" width="370.4" height="23.4" fill="url(#gZ)"/>
<g clip-path="url(#cabove)"><circle cx="985" cy="557" r="31" fill="url(#gHalo)"/>
<ellipse cx="985" cy="590" rx="22" ry="13" fill="url(#gDark)"/></g>
<rect x="972.1" y="547.7" width="25.8" height="18.7" fill="url(#gGapH)"/>
<rect x="972.1" y="547.7" width="25.8" height="18.7" fill="url(#gGapV)"/>
<ellipse cx="974.0" cy="549.0" rx="4.6" ry="5.6" fill="url(#gHot)"/>
<ellipse cx="974.0" cy="566.6" rx="4.6" ry="5.6" fill="url(#gHot)"/>
<ellipse cx="996.0" cy="549.0" rx="4.6" ry="5.6" fill="url(#gHot)"/>
<ellipse cx="996.0" cy="566.6" rx="4.6" ry="5.6" fill="url(#gHot)"/>
<path d="M800.3 547.7 H972.1 V566.4 H800.3 M1170.7 547.7 H997.9 V566.4 H1170.7 M800.3 589.8 H1170.7" fill="none" stroke="#a8a8a8" stroke-width="1.3"/>
<circle cx="972.6" cy="548.4" r="1.5" fill="#fff"/>
<circle cx="972.6" cy="565.8" r="1.5" fill="#fff"/>
<circle cx="997.4" cy="548.4" r="1.5" fill="#fff"/>
<circle cx="997.4" cy="565.8" r="1.5" fill="#fff"/>
</g>
<rect x="800.3" y="503.0" width="370.4" height="130.2" fill="none" stroke="#000" stroke-width="5"/>
<path d="M800.3 635.7 V503.0 H1170.7 V633.2 H797.8" fill="none" stroke="#008000" stroke-width="5" stroke-dasharray="15.7 5.57" stroke-dashoffset="-2.5"/>
<text x="1162" y="533.8" text-anchor="end" font-size="26.4" style="fill:#fff">λ=5.41 µm</text>
<text transform="translate(992.9,487.7) scale(1,1.145)" text-anchor="middle" font-size="30">|<tspan class="it">E</tspan>/<tspan class="it">E</tspan><tspan font-size="21" dy="4.8">0</tspan><tspan dy="-4.8">|²</tspan></text>
<text transform="translate(991.3,658) scale(1,1.147)" text-anchor="middle" font-size="20.3"><tspan class="it">X</tspan> (µm)</text>
<text transform="translate(783.8,564.5) scale(1,1.147) rotate(-90)" text-anchor="middle" font-size="20.3"><tspan class="it">Z</tspan> (µm)</text>
<rect x="1181.4" y="502.1" width="6.4" height="132.6" fill="url(#gCb)" stroke="#000" stroke-width="2.4"/>
<text transform="translate(1191.4,517.2) scale(1,1.17)" font-size="19.1">500</text>
<text transform="translate(1193.2,642.8) scale(1,1.17)" font-size="19.1">0</text>
</svg>
</body></html>
